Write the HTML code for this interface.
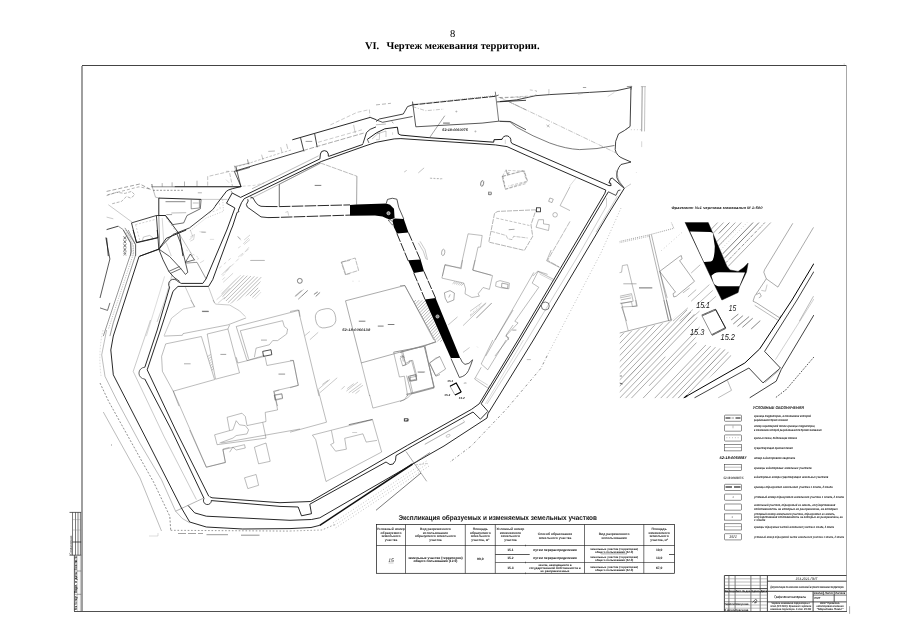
<!DOCTYPE html>
<html lang="ru"><head><meta charset="utf-8"><title>Чертеж межевания территории</title>
<style>
html,body{margin:0;padding:0;background:#fff;}
body{width:905px;height:640px;overflow:hidden;font-family:"Liberation Sans",sans-serif;}
svg{display:block;position:absolute;left:0;top:0;filter:grayscale(1);}
text{text-rendering:geometricPrecision;}
</style></head><body>
<svg width="905" height="640" viewBox="0 0 905 640">
<polyline points="82.0,65.5 847.0,65.5" fill="none" stroke="#444" stroke-width="1"/>
<polyline points="846.5,65.0 846.5,612.0" fill="none" stroke="#a8a8a8" stroke-width="1"/>
<polyline points="74.0,611.5 847.0,611.5" fill="none" stroke="#505050" stroke-width="1"/>
<polyline points="82.0,66.0 82.0,611.0" fill="none" stroke="#9a9a9a" stroke-width="1.9"/>
<polyline points="849.6,606.2 849.6,613.8" fill="none" stroke="#aaa" stroke-width="1"/>
<polyline points="844.2,63.5 844.2,64.6" fill="none" stroke="#999" stroke-width="0.6"/>
<text x="452.6" y="36.8" font-family='"Liberation Serif", serif' font-size="10.5" font-weight="normal" font-style="normal" text-anchor="middle" fill="#000" xml:space="preserve">8</text>
<text x="364.9" y="48.8" font-family='"Liberation Serif", serif' font-size="10.2" font-weight="bold" font-style="normal" text-anchor="start" fill="#000" textLength="14.3" lengthAdjust="spacingAndGlyphs" xml:space="preserve">VI.</text>
<text x="386.4" y="48.8" font-family='"Liberation Serif", serif' font-size="10.2" font-weight="bold" font-style="normal" text-anchor="start" fill="#000" textLength="153.2" lengthAdjust="spacingAndGlyphs" xml:space="preserve">Чертеж межевания территории.</text>
<polyline points="69.5,512.4 81.2,512.4" fill="none" stroke="#222" stroke-width="0.7"/>
<polyline points="72.5,512.4 72.5,555.2" fill="none" stroke="#222" stroke-width="0.6"/>
<polyline points="75.5,512.4 75.5,555.2" fill="none" stroke="#222" stroke-width="0.6"/>
<polyline points="78.0,512.4 78.0,555.2" fill="none" stroke="#222" stroke-width="0.6"/>
<polyline points="80.4,512.4 80.4,555.2" fill="none" stroke="#222" stroke-width="0.6"/>
<polyline points="72.5,542.0 81.2,542.0" fill="none" stroke="#111" stroke-width="0.7"/>
<polyline points="72.5,519.6 81.2,519.6" fill="none" stroke="#777" stroke-width="0.35"/>
<polyline points="72.5,530.0 81.2,530.0" fill="none" stroke="#777" stroke-width="0.35"/>
<polyline points="69.5,555.2 81.2,555.2" fill="none" stroke="#222" stroke-width="0.7"/>
<polyline points="74.4,555.2 74.4,611.0" fill="none" stroke="#333" stroke-width="0.8"/>
<polyline points="80.4,555.2 80.4,611.0" fill="none" stroke="#888" stroke-width="0.5"/>
<polyline points="77.6,555.2 77.6,611.0" fill="none" stroke="#999" stroke-width="0.4"/>
<polyline points="74.4,571.0 81.2,571.0" fill="none" stroke="#444" stroke-width="0.5"/>
<polyline points="74.4,594.3 81.2,594.3" fill="none" stroke="#444" stroke-width="0.5"/>
<text x="71.8" y="554.8" font-family='"Liberation Sans", sans-serif' font-size="3.4" font-weight="normal" font-style="normal" text-anchor="start" fill="#111" textLength="19.0" lengthAdjust="spacingAndGlyphs" transform="rotate(-90 71.8 554.8)" xml:space="preserve">Согласовано</text>
<text x="77.4" y="610.3" font-family='"Liberation Sans", sans-serif' font-size="3.6" font-weight="bold" font-style="normal" text-anchor="start" fill="#000" textLength="15.0" lengthAdjust="spacingAndGlyphs" transform="rotate(-90 77.4 610.3)" xml:space="preserve">Инв. № подл.</text>
<text x="77.4" y="593.3" font-family='"Liberation Sans", sans-serif' font-size="3.6" font-weight="bold" font-style="normal" text-anchor="start" fill="#000" textLength="21.0" lengthAdjust="spacingAndGlyphs" transform="rotate(-90 77.4 593.3)" xml:space="preserve">Подп. и дата</text>
<text x="77.4" y="570.0" font-family='"Liberation Sans", sans-serif' font-size="3.6" font-weight="bold" font-style="normal" text-anchor="start" fill="#000" textLength="14.0" lengthAdjust="spacingAndGlyphs" transform="rotate(-90 77.4 570.0)" xml:space="preserve">Взам. инв. №</text>
<text x="398.5" y="519.7" font-family='"Liberation Sans", sans-serif' font-size="6.9" font-weight="bold" font-style="normal" text-anchor="start" fill="#111" textLength="198.5" lengthAdjust="spacingAndGlyphs" xml:space="preserve">Экспликация образуемых и изменяемых земельных участков</text>
<rect x="376.5" y="524.5" width="298.0" height="48.8" rx="0" fill="none" stroke="#111" stroke-width="0.7"/>
<polyline points="405.5,524.5 405.5,573.3" fill="none" stroke="#111" stroke-width="0.6"/>
<polyline points="465.3,524.5 465.3,573.3" fill="none" stroke="#111" stroke-width="0.6"/>
<polyline points="495.3,524.5 495.3,573.3" fill="none" stroke="#111" stroke-width="0.6"/>
<polyline points="525.5,544.7 525.5,546.3" fill="none" stroke="#333" stroke-width="0.6"/>
<polyline points="525.5,561.7 525.5,563.3" fill="none" stroke="#333" stroke-width="0.6"/>
<polyline points="525.5,572.5 525.5,574.1" fill="none" stroke="#333" stroke-width="0.6"/>
<polyline points="584.5,524.5 584.5,573.3" fill="none" stroke="#111" stroke-width="0.6"/>
<polyline points="643.8,524.5 643.8,573.3" fill="none" stroke="#111" stroke-width="0.6"/>
<polyline points="376.5,545.5 674.5,545.5" fill="none" stroke="#111" stroke-width="0.6"/>
<polyline points="669.0,554.5 674.5,554.5" fill="none" stroke="#111" stroke-width="0.7"/>
<polyline points="601.0,553.9 627.0,553.9" fill="none" stroke="#333" stroke-width="0.4"/>
<polyline points="495.3,554.5 529.7,554.5" fill="none" stroke="#111" stroke-width="0.7"/>
<polyline points="495.3,562.5 674.5,562.5" fill="none" stroke="#222" stroke-width="0.6"/>
<text x="391.0" y="529.8" font-family='"Liberation Sans", sans-serif' font-size="3.3" font-weight="bold" font-style="normal" text-anchor="middle" fill="#222" xml:space="preserve">Условный номер</text>
<text x="391.0" y="533.5" font-family='"Liberation Sans", sans-serif' font-size="3.3" font-weight="bold" font-style="normal" text-anchor="middle" fill="#222" xml:space="preserve">образуемого</text>
<text x="391.0" y="537.3" font-family='"Liberation Sans", sans-serif' font-size="3.3" font-weight="bold" font-style="normal" text-anchor="middle" fill="#222" xml:space="preserve">земельного</text>
<text x="391.0" y="541.0" font-family='"Liberation Sans", sans-serif' font-size="3.3" font-weight="bold" font-style="normal" text-anchor="middle" fill="#222" xml:space="preserve">участка</text>
<text x="435.4" y="529.8" font-family='"Liberation Sans", sans-serif' font-size="3.3" font-weight="bold" font-style="normal" text-anchor="middle" fill="#222" xml:space="preserve">Вид разрешенного</text>
<text x="435.4" y="533.5" font-family='"Liberation Sans", sans-serif' font-size="3.3" font-weight="bold" font-style="normal" text-anchor="middle" fill="#222" xml:space="preserve">использования</text>
<text x="435.4" y="537.3" font-family='"Liberation Sans", sans-serif' font-size="3.3" font-weight="bold" font-style="normal" text-anchor="middle" fill="#222" xml:space="preserve">образуемого земельного</text>
<text x="435.4" y="541.0" font-family='"Liberation Sans", sans-serif' font-size="3.3" font-weight="bold" font-style="normal" text-anchor="middle" fill="#222" xml:space="preserve">участка</text>
<text x="480.3" y="529.8" font-family='"Liberation Sans", sans-serif' font-size="3.3" font-weight="bold" font-style="normal" text-anchor="middle" fill="#222" xml:space="preserve">Площадь</text>
<text x="480.3" y="533.5" font-family='"Liberation Sans", sans-serif' font-size="3.3" font-weight="bold" font-style="normal" text-anchor="middle" fill="#222" xml:space="preserve">образуемого</text>
<text x="480.3" y="537.3" font-family='"Liberation Sans", sans-serif' font-size="3.3" font-weight="bold" font-style="normal" text-anchor="middle" fill="#222" xml:space="preserve">земельного</text>
<text x="480.3" y="541.0" font-family='"Liberation Sans", sans-serif' font-size="3.3" font-weight="bold" font-style="normal" text-anchor="middle" fill="#222" xml:space="preserve">участка, м²</text>
<text x="510.4" y="529.8" font-family='"Liberation Sans", sans-serif' font-size="3.3" font-weight="bold" font-style="normal" text-anchor="middle" fill="#222" xml:space="preserve">Условный номер</text>
<text x="510.4" y="533.5" font-family='"Liberation Sans", sans-serif' font-size="3.3" font-weight="bold" font-style="normal" text-anchor="middle" fill="#222" xml:space="preserve">изменяемого</text>
<text x="510.4" y="537.3" font-family='"Liberation Sans", sans-serif' font-size="3.3" font-weight="bold" font-style="normal" text-anchor="middle" fill="#222" xml:space="preserve">земельного</text>
<text x="510.4" y="541.0" font-family='"Liberation Sans", sans-serif' font-size="3.3" font-weight="bold" font-style="normal" text-anchor="middle" fill="#222" xml:space="preserve">участка</text>
<text x="555.0" y="535.2" font-family='"Liberation Sans", sans-serif' font-size="3.3" font-weight="bold" font-style="normal" text-anchor="middle" fill="#222" xml:space="preserve">Способ образования</text>
<text x="555.0" y="539.0" font-family='"Liberation Sans", sans-serif' font-size="3.3" font-weight="bold" font-style="normal" text-anchor="middle" fill="#222" xml:space="preserve">земельного участка</text>
<text x="614.1" y="535.2" font-family='"Liberation Sans", sans-serif' font-size="3.3" font-weight="bold" font-style="normal" text-anchor="middle" fill="#222" xml:space="preserve">Вид разрешенного</text>
<text x="614.1" y="539.0" font-family='"Liberation Sans", sans-serif' font-size="3.3" font-weight="bold" font-style="normal" text-anchor="middle" fill="#222" xml:space="preserve">использования</text>
<text x="659.1" y="529.8" font-family='"Liberation Sans", sans-serif' font-size="3.3" font-weight="bold" font-style="normal" text-anchor="middle" fill="#222" xml:space="preserve">Площадь</text>
<text x="659.1" y="533.5" font-family='"Liberation Sans", sans-serif' font-size="3.3" font-weight="bold" font-style="normal" text-anchor="middle" fill="#222" xml:space="preserve">изменяемого</text>
<text x="659.1" y="537.3" font-family='"Liberation Sans", sans-serif' font-size="3.3" font-weight="bold" font-style="normal" text-anchor="middle" fill="#222" xml:space="preserve">земельного</text>
<text x="659.1" y="541.0" font-family='"Liberation Sans", sans-serif' font-size="3.3" font-weight="bold" font-style="normal" text-anchor="middle" fill="#222" xml:space="preserve">участка, м²</text>
<text x="391.0" y="562.2" font-family='"Liberation Sans", sans-serif' font-size="5" font-weight="normal" font-style="italic" text-anchor="middle" fill="#111" xml:space="preserve">15</text>
<polyline points="388.5,563.0 393.5,563.0" fill="none" stroke="#555" stroke-width="0.3"/>
<text x="435.4" y="558.6" font-family='"Liberation Sans", sans-serif' font-size="3.3" font-weight="bold" font-style="normal" text-anchor="middle" fill="#000" xml:space="preserve">земельные участки (территории)</text>
<text x="435.4" y="562.4" font-family='"Liberation Sans", sans-serif' font-size="3.3" font-weight="bold" font-style="normal" text-anchor="middle" fill="#000" xml:space="preserve">общего пользования (12.0)</text>
<text x="480.3" y="560.2" font-family='"Liberation Sans", sans-serif' font-size="3.3" font-weight="bold" font-style="normal" text-anchor="middle" fill="#000" xml:space="preserve">90,0</text>
<text x="510.4" y="551.0" font-family='"Liberation Sans", sans-serif' font-size="3.3" font-weight="bold" font-style="normal" text-anchor="middle" fill="#000" xml:space="preserve">15.1</text>
<text x="510.4" y="559.4" font-family='"Liberation Sans", sans-serif' font-size="3.3" font-weight="bold" font-style="normal" text-anchor="middle" fill="#000" xml:space="preserve">15.2</text>
<text x="510.4" y="569.0" font-family='"Liberation Sans", sans-serif' font-size="3.3" font-weight="bold" font-style="normal" text-anchor="middle" fill="#000" xml:space="preserve">15.3</text>
<text x="555.0" y="551.0" font-family='"Liberation Sans", sans-serif' font-size="3.3" font-weight="bold" font-style="normal" text-anchor="middle" fill="#000" xml:space="preserve">путем перераспределения</text>
<text x="555.0" y="559.4" font-family='"Liberation Sans", sans-serif' font-size="3.3" font-weight="bold" font-style="normal" text-anchor="middle" fill="#000" xml:space="preserve">путем перераспределения</text>
<text x="555.0" y="565.6" font-family='"Liberation Sans", sans-serif' font-size="3.0" font-weight="bold" font-style="normal" text-anchor="middle" fill="#000" xml:space="preserve">земли, находящиеся в</text>
<text x="555.0" y="568.7" font-family='"Liberation Sans", sans-serif' font-size="3.0" font-weight="bold" font-style="normal" text-anchor="middle" fill="#000" xml:space="preserve">государственной собственности и</text>
<text x="555.0" y="571.8" font-family='"Liberation Sans", sans-serif' font-size="3.0" font-weight="bold" font-style="normal" text-anchor="middle" fill="#000" xml:space="preserve">не разграниченные</text>
<text x="614.1" y="549.6" font-family='"Liberation Sans", sans-serif' font-size="2.9" font-weight="bold" font-style="normal" text-anchor="middle" fill="#000" xml:space="preserve">земельные участки (территории)</text>
<text x="614.1" y="552.6" font-family='"Liberation Sans", sans-serif' font-size="2.9" font-weight="bold" font-style="normal" text-anchor="middle" fill="#000" xml:space="preserve">общего пользования (12.0)</text>
<text x="614.1" y="557.9" font-family='"Liberation Sans", sans-serif' font-size="2.9" font-weight="bold" font-style="normal" text-anchor="middle" fill="#000" xml:space="preserve">земельные участки (территории)</text>
<text x="614.1" y="560.9" font-family='"Liberation Sans", sans-serif' font-size="2.9" font-weight="bold" font-style="normal" text-anchor="middle" fill="#000" xml:space="preserve">общего пользования (12.0)</text>
<text x="614.1" y="567.6" font-family='"Liberation Sans", sans-serif' font-size="2.9" font-weight="bold" font-style="normal" text-anchor="middle" fill="#000" xml:space="preserve">земельные участки (территории)</text>
<text x="614.1" y="570.6" font-family='"Liberation Sans", sans-serif' font-size="2.9" font-weight="bold" font-style="normal" text-anchor="middle" fill="#000" xml:space="preserve">общего пользования (12.0)</text>
<text x="659.1" y="551.0" font-family='"Liberation Sans", sans-serif' font-size="3.3" font-weight="bold" font-style="normal" text-anchor="middle" fill="#000" xml:space="preserve">10,0</text>
<text x="659.1" y="559.4" font-family='"Liberation Sans", sans-serif' font-size="3.3" font-weight="bold" font-style="normal" text-anchor="middle" fill="#000" xml:space="preserve">13,0</text>
<text x="659.1" y="569.0" font-family='"Liberation Sans", sans-serif' font-size="3.3" font-weight="bold" font-style="normal" text-anchor="middle" fill="#000" xml:space="preserve">67,0</text>
<text x="752.8" y="408.8" font-family='"Liberation Sans", sans-serif' font-size="4.2" font-weight="bold" font-style="italic" text-anchor="start" fill="#111" textLength="51.0" lengthAdjust="spacingAndGlyphs" xml:space="preserve">УСЛОВНЫЕ ОБОЗНАЧЕНИЯ</text>
<rect x="724.5" y="415.1" width="17.0" height="6.2" rx="0.8" fill="none" stroke="#222" stroke-width="0.5"/>
<polyline points="725.5,418.0 730.5,418.0" fill="none" stroke="#222" stroke-width="1.1"/>
<polyline points="731.5,418.0 734.0,418.0" fill="none" stroke="#222" stroke-width="0.5"/>
<polyline points="735.5,418.0 740.5,418.0" fill="none" stroke="#222" stroke-width="1.1"/>
<text x="754.0" y="417.4" font-family='"Liberation Sans", sans-serif' font-size="3.1" font-weight="bold" font-style="italic" text-anchor="start" fill="#111" textLength="57.0" lengthAdjust="spacingAndGlyphs" xml:space="preserve">граница территории, в отношении которой</text>
<text x="754.0" y="420.7" font-family='"Liberation Sans", sans-serif' font-size="3.1" font-weight="bold" font-style="italic" text-anchor="start" fill="#111" textLength="33.8" lengthAdjust="spacingAndGlyphs" xml:space="preserve">разрабатывается проект межевания</text>
<rect x="724.5" y="425.0" width="17.0" height="6.2" rx="0.8" fill="none" stroke="#222" stroke-width="0.5"/>
<polyline points="733.0,425.5 733.0,428.3" fill="none" stroke="#555" stroke-width="0.4"/>
<text x="754.0" y="427.3" font-family='"Liberation Sans", sans-serif' font-size="3.1" font-weight="bold" font-style="italic" text-anchor="start" fill="#111" textLength="61.2" lengthAdjust="spacingAndGlyphs" xml:space="preserve">номер характерной точки границы территории,</text>
<text x="754.0" y="430.6" font-family='"Liberation Sans", sans-serif' font-size="3.1" font-weight="bold" font-style="italic" text-anchor="start" fill="#111" textLength="67.5" lengthAdjust="spacingAndGlyphs" xml:space="preserve">в отношении которой разрабатывается проект межевания</text>
<rect x="724.5" y="434.9" width="17.0" height="6.2" rx="0.8" fill="none" stroke="#222" stroke-width="0.5"/>
<polyline points="726.5,437.7 740.0,437.7" fill="none" stroke="#555" stroke-width="0.5" stroke-dasharray="0.8 2"/>
<text x="754.0" y="438.9" font-family='"Liberation Sans", sans-serif' font-size="3.1" font-weight="bold" font-style="italic" text-anchor="start" fill="#111" textLength="43.0" lengthAdjust="spacingAndGlyphs" xml:space="preserve">красные линии, подлежащие отмене</text>
<rect x="724.5" y="444.7" width="17.0" height="6.2" rx="0" fill="none" stroke="#222" stroke-width="0.5"/>
<polyline points="724.5,447.5 741.5,447.5" fill="none" stroke="#555" stroke-width="0.4"/>
<text x="754.0" y="448.7" font-family='"Liberation Sans", sans-serif' font-size="3.1" font-weight="bold" font-style="italic" text-anchor="start" fill="#111" textLength="38.8" lengthAdjust="spacingAndGlyphs" xml:space="preserve">существующая красная линия</text>
<text x="719.5" y="459.0" font-family='"Liberation Sans", sans-serif' font-size="3.8" font-weight="bold" font-style="italic" text-anchor="start" fill="#000" textLength="27.0" lengthAdjust="spacingAndGlyphs" xml:space="preserve">52:18:0060087</text>
<text x="754.0" y="458.6" font-family='"Liberation Sans", sans-serif' font-size="3.1" font-weight="bold" font-style="italic" text-anchor="start" fill="#111" textLength="41.2" lengthAdjust="spacingAndGlyphs" xml:space="preserve">номер кадастрового квартала</text>
<rect x="724.5" y="464.5" width="17.0" height="6.2" rx="0" fill="none" stroke="#222" stroke-width="0.5"/>
<polyline points="724.5,467.2 741.5,467.2" fill="none" stroke="#555" stroke-width="0.4"/>
<text x="754.0" y="468.5" font-family='"Liberation Sans", sans-serif' font-size="3.1" font-weight="bold" font-style="italic" text-anchor="start" fill="#111" textLength="57.5" lengthAdjust="spacingAndGlyphs" xml:space="preserve">границы кадастровых земельных участков</text>
<text x="723.5" y="478.9" font-family='"Liberation Sans", sans-serif' font-size="3.3" font-weight="bold" font-style="italic" text-anchor="start" fill="#333" textLength="20.0" lengthAdjust="spacingAndGlyphs" xml:space="preserve">52:18:0060087:5</text>
<text x="754.0" y="478.4" font-family='"Liberation Sans", sans-serif' font-size="3.1" font-weight="bold" font-style="italic" text-anchor="start" fill="#111" textLength="74.2" lengthAdjust="spacingAndGlyphs" xml:space="preserve">кадастровые номера существующих земельных участков</text>
<rect x="724.5" y="484.3" width="17.0" height="6.2" rx="0.8" fill="none" stroke="#222" stroke-width="0.5"/>
<polyline points="725.5,487.0 732.0,487.0" fill="none" stroke="#222" stroke-width="1.2"/>
<polyline points="734.0,487.0 740.5,487.0" fill="none" stroke="#222" stroke-width="1.2"/>
<text x="754.0" y="488.3" font-family='"Liberation Sans", sans-serif' font-size="3.1" font-weight="bold" font-style="italic" text-anchor="start" fill="#111" textLength="78.8" lengthAdjust="spacingAndGlyphs" xml:space="preserve">граница образуемого земельного участка 1 этапа, 2 этапа</text>
<rect x="724.5" y="494.1" width="17.0" height="6.2" rx="0.8" fill="none" stroke="#222" stroke-width="0.5"/>
<text x="733.0" y="497.9" font-family='"Liberation Sans", sans-serif' font-size="3" font-weight="normal" font-style="italic" text-anchor="middle" fill="#555" xml:space="preserve">1</text>
<text x="754.0" y="498.1" font-family='"Liberation Sans", sans-serif' font-size="3.1" font-weight="bold" font-style="italic" text-anchor="start" fill="#111" textLength="90.0" lengthAdjust="spacingAndGlyphs" xml:space="preserve">условный номер образуемого земельного участка 1 этапа, 2 этапа</text>
<rect x="724.5" y="504.0" width="17.0" height="6.2" rx="0.8" fill="none" stroke="#222" stroke-width="0.5"/>
<text x="754.0" y="506.4" font-family='"Liberation Sans", sans-serif' font-size="3.1" font-weight="bold" font-style="italic" text-anchor="start" fill="#111" textLength="81.2" lengthAdjust="spacingAndGlyphs" xml:space="preserve">земельный участок, образуемый из земель, государственная</text>
<text x="754.0" y="509.7" font-family='"Liberation Sans", sans-serif' font-size="3.1" font-weight="bold" font-style="italic" text-anchor="start" fill="#111" textLength="83.8" lengthAdjust="spacingAndGlyphs" xml:space="preserve">собственность на которые не разграничена, на которых</text>
<rect x="724.5" y="513.9" width="17.0" height="6.2" rx="0" fill="none" stroke="#222" stroke-width="0.5"/>
<text x="732.0" y="517.6" font-family='"Liberation Sans", sans-serif' font-size="3" font-weight="normal" font-style="italic" text-anchor="middle" fill="#666" xml:space="preserve">:1</text>
<text x="754.0" y="514.6" font-family='"Liberation Sans", sans-serif' font-size="3.1" font-weight="bold" font-style="italic" text-anchor="start" fill="#111" textLength="81.2" lengthAdjust="spacingAndGlyphs" xml:space="preserve">условный номер земельного участка, образуемого из земель,</text>
<text x="754.0" y="517.9" font-family='"Liberation Sans", sans-serif' font-size="3.1" font-weight="bold" font-style="italic" text-anchor="start" fill="#111" textLength="88.8" lengthAdjust="spacingAndGlyphs" xml:space="preserve">государственная собственность на которые не разграничена, на</text>
<text x="754.0" y="521.2" font-family='"Liberation Sans", sans-serif' font-size="3.1" font-weight="bold" font-style="italic" text-anchor="start" fill="#111" textLength="11.2" lengthAdjust="spacingAndGlyphs" xml:space="preserve">1 этапе</text>
<rect x="724.5" y="523.8" width="17.0" height="6.2" rx="0" fill="none" stroke="#222" stroke-width="0.5"/>
<polyline points="724.5,526.6 741.5,526.6" fill="none" stroke="#555" stroke-width="0.4"/>
<text x="754.0" y="527.8" font-family='"Liberation Sans", sans-serif' font-size="3.1" font-weight="bold" font-style="italic" text-anchor="start" fill="#111" textLength="80.0" lengthAdjust="spacingAndGlyphs" xml:space="preserve">границы образуемых частей земельного участка 1 этапа, 2 этапа</text>
<rect x="724.5" y="533.7" width="17.0" height="6.2" rx="0.8" fill="none" stroke="#222" stroke-width="0.5"/>
<text x="733.0" y="538.2" font-family='"Liberation Sans", sans-serif' font-size="4" font-weight="normal" font-style="italic" text-anchor="middle" fill="#111" xml:space="preserve">15/1</text>
<text x="754.0" y="537.7" font-family='"Liberation Sans", sans-serif' font-size="3.1" font-weight="bold" font-style="italic" text-anchor="start" fill="#222" textLength="90.0" lengthAdjust="spacingAndGlyphs" xml:space="preserve">условный номер образуемой части земельного участка 1 этапа, 2 этапа</text>
<polyline points="724.4,575.5 846.5,575.5" fill="none" stroke="#333" stroke-width="0.9"/>
<polyline points="724.4,575.5 724.4,611.5" fill="none" stroke="#333" stroke-width="0.9"/>
<polyline points="728.9,575.5 728.9,611.5" fill="none" stroke="#444" stroke-width="0.7"/>
<polyline points="735.1,575.5 735.1,611.5" fill="none" stroke="#444" stroke-width="0.7"/>
<polyline points="750.9,575.5 750.9,611.5" fill="none" stroke="#444" stroke-width="0.7"/>
<polyline points="760.2,575.5 760.2,611.5" fill="none" stroke="#444" stroke-width="0.7"/>
<polyline points="767.4,575.5 767.4,611.5" fill="none" stroke="#333" stroke-width="0.9"/>
<polyline points="724.4,578.8 767.4,578.8" fill="none" stroke="#777" stroke-width="0.5"/>
<polyline points="724.4,582.0 767.4,582.0" fill="none" stroke="#777" stroke-width="0.5"/>
<polyline points="724.4,585.3 767.4,585.3" fill="none" stroke="#777" stroke-width="0.5"/>
<polyline points="724.4,588.6 767.4,588.6" fill="none" stroke="#333" stroke-width="0.9"/>
<polyline points="724.4,591.9 767.4,591.9" fill="none" stroke="#333" stroke-width="0.9"/>
<polyline points="724.4,595.1 767.4,595.1" fill="none" stroke="#777" stroke-width="0.5"/>
<polyline points="724.4,598.4 767.4,598.4" fill="none" stroke="#777" stroke-width="0.5"/>
<polyline points="724.4,601.7 767.4,601.7" fill="none" stroke="#333" stroke-width="0.5"/>
<polyline points="724.4,605.0 767.4,605.0" fill="none" stroke="#777" stroke-width="0.5"/>
<polyline points="724.4,608.2 767.4,608.2" fill="none" stroke="#777" stroke-width="0.5"/>
<polyline points="767.4,581.2 846.5,581.2" fill="none" stroke="#333" stroke-width="0.9"/>
<polyline points="767.4,591.3 846.5,591.3" fill="none" stroke="#333" stroke-width="0.9"/>
<polyline points="767.4,601.9 846.5,601.9" fill="none" stroke="#333" stroke-width="0.9"/>
<polyline points="813.1,591.3 813.1,611.5" fill="none" stroke="#333" stroke-width="0.9"/>
<polyline points="813.1,595.1 846.5,595.1" fill="none" stroke="#333" stroke-width="0.7"/>
<polyline points="823.4,591.3 823.4,595.1" fill="none" stroke="#333" stroke-width="0.7"/>
<polyline points="834.2,591.3 834.2,601.9" fill="none" stroke="#333" stroke-width="0.8"/>
<text x="806.5" y="579.6" font-family='"Liberation Sans", sans-serif' font-size="3.6" font-weight="normal" font-style="italic" text-anchor="middle" fill="#111" textLength="22.0" lengthAdjust="spacingAndGlyphs" xml:space="preserve">153-2021-ПМТ</text>
<text x="807.0" y="588.0" font-family='"Liberation Sans", sans-serif' font-size="3.2" font-weight="bold" font-style="italic" text-anchor="middle" fill="#111" textLength="73.5" lengthAdjust="spacingAndGlyphs" xml:space="preserve">Документация по внесению изменений в проект межевания территории</text>
<text x="790.2" y="597.7" font-family='"Liberation Sans", sans-serif' font-size="3.5" font-weight="bold" font-style="italic" text-anchor="middle" fill="#222" textLength="32.0" lengthAdjust="spacingAndGlyphs" xml:space="preserve">Графические материалы</text>
<text x="818.2" y="594.4" font-family='"Liberation Sans", sans-serif' font-size="2.9" font-weight="bold" font-style="italic" text-anchor="middle" fill="#000" textLength="9.0" lengthAdjust="spacingAndGlyphs" xml:space="preserve">Стадия</text>
<text x="828.8" y="594.4" font-family='"Liberation Sans", sans-serif' font-size="2.9" font-weight="bold" font-style="italic" text-anchor="middle" fill="#000" textLength="8.0" lengthAdjust="spacingAndGlyphs" xml:space="preserve">Лист</text>
<text x="840.3" y="594.4" font-family='"Liberation Sans", sans-serif' font-size="2.9" font-weight="bold" font-style="italic" text-anchor="middle" fill="#000" textLength="10.0" lengthAdjust="spacingAndGlyphs" xml:space="preserve">Листов</text>
<text x="817.2" y="598.5" font-family='"Liberation Sans", sans-serif' font-size="2.8" font-weight="bold" font-style="italic" text-anchor="middle" fill="#333" xml:space="preserve">ПМТ</text>
<text x="790.7" y="604.3" font-family='"Liberation Sans", sans-serif' font-size="2.9" font-weight="bold" font-style="italic" text-anchor="middle" fill="#111" textLength="39.0" lengthAdjust="spacingAndGlyphs" xml:space="preserve">Чертеж межевания территории. I</text>
<text x="790.7" y="606.9" font-family='"Liberation Sans", sans-serif' font-size="2.9" font-weight="bold" font-style="italic" text-anchor="middle" fill="#111" textLength="41.0" lengthAdjust="spacingAndGlyphs" xml:space="preserve">этап (М 1:1000). Фрагмент чертежа</text>
<text x="790.7" y="609.6" font-family='"Liberation Sans", sans-serif' font-size="2.9" font-weight="bold" font-style="italic" text-anchor="middle" fill="#111" textLength="41.0" lengthAdjust="spacingAndGlyphs" xml:space="preserve">межевания территории. II этап. М 1:500</text>
<text x="830.0" y="604.3" font-family='"Liberation Sans", sans-serif' font-size="2.9" font-weight="bold" font-style="italic" text-anchor="middle" fill="#111" textLength="20.0" lengthAdjust="spacingAndGlyphs" xml:space="preserve">ООО "Проектно-</text>
<text x="830.0" y="606.9" font-family='"Liberation Sans", sans-serif' font-size="2.9" font-weight="bold" font-style="italic" text-anchor="middle" fill="#111" textLength="27.0" lengthAdjust="spacingAndGlyphs" xml:space="preserve">кадастровая компания</text>
<text x="830.0" y="609.6" font-family='"Liberation Sans", sans-serif' font-size="2.9" font-weight="bold" font-style="italic" text-anchor="middle" fill="#111" textLength="27.0" lengthAdjust="spacingAndGlyphs" xml:space="preserve">"Меридиан Плюс"</text>
<text x="724.8" y="591.5" font-family='"Liberation Sans", sans-serif' font-size="2.9" font-weight="bold" font-style="normal" text-anchor="start" fill="#000" textLength="3.8" lengthAdjust="spacingAndGlyphs" xml:space="preserve">Изм.</text>
<text x="729.2" y="591.5" font-family='"Liberation Sans", sans-serif' font-size="2.9" font-weight="bold" font-style="normal" text-anchor="start" fill="#000" textLength="5.6" lengthAdjust="spacingAndGlyphs" xml:space="preserve">Кол.уч</text>
<text x="735.4" y="591.5" font-family='"Liberation Sans", sans-serif' font-size="2.9" font-weight="bold" font-style="normal" text-anchor="start" fill="#000" textLength="15.2" lengthAdjust="spacingAndGlyphs" xml:space="preserve">Лист  № док.</text>
<text x="751.2" y="591.5" font-family='"Liberation Sans", sans-serif' font-size="2.9" font-weight="bold" font-style="normal" text-anchor="start" fill="#000" textLength="8.6" lengthAdjust="spacingAndGlyphs" xml:space="preserve">Подпись</text>
<text x="760.5" y="591.5" font-family='"Liberation Sans", sans-serif' font-size="2.9" font-weight="bold" font-style="normal" text-anchor="start" fill="#000" textLength="6.6" lengthAdjust="spacingAndGlyphs" xml:space="preserve">Дата</text>
<text x="724.8" y="604.6" font-family='"Liberation Sans", sans-serif' font-size="2.9" font-weight="bold" font-style="normal" text-anchor="start" fill="#000" textLength="10.0" lengthAdjust="spacingAndGlyphs" xml:space="preserve">Разработал</text>
<text x="735.4" y="604.6" font-family='"Liberation Sans", sans-serif' font-size="2.9" font-weight="bold" font-style="normal" text-anchor="start" fill="#111" textLength="13.0" lengthAdjust="spacingAndGlyphs" xml:space="preserve">Шалунова</text>
<text x="724.8" y="611.1" font-family='"Liberation Sans", sans-serif' font-size="2.9" font-weight="bold" font-style="normal" text-anchor="start" fill="#000" textLength="10.0" lengthAdjust="spacingAndGlyphs" xml:space="preserve">Н. контроль</text>
<text x="735.4" y="611.1" font-family='"Liberation Sans", sans-serif' font-size="2.9" font-weight="bold" font-style="normal" text-anchor="start" fill="#111" textLength="13.0" lengthAdjust="spacingAndGlyphs" xml:space="preserve">Краснова</text>
<path d="M752.5,602.5 l3,-3.2 l1.5,1 l-2.5,2.7 l2.2,-0.6" fill="none" stroke="#111" stroke-width="0.6"/>
<path d="M250.4,197 L253,197.9 Q254.5,201 256.6,203.6 Q258.5,205.6 261,206.3 L266,206.5" fill="none" stroke="#000" stroke-width="0.8"/>
<polyline points="266.0,206.5 279.6,206.6 350.0,204.9" fill="none" stroke="#000" stroke-width="0.85" stroke-dasharray="11.5 1.4"/>
<path d="M247.7,199.2 L248.2,201 L246.4,204.5 L247.3,207.1 L253,211.1 L261,216.9 L268,217.6" fill="none" stroke="#000" stroke-width="0.8"/>
<polyline points="268.0,217.6 278.0,217.4 350.0,215.1" fill="none" stroke="#000" stroke-width="0.85" stroke-dasharray="11.5 1.4"/>
<polyline points="279.5,184.1 279.5,206.3" fill="none" stroke="#333" stroke-width="0.5"/>
<polygon points="350.0,205.0 356.2,204.4 386.2,203.4 390.0,204.8 394.0,208.8 394.6,218.2 390.0,219.5 386.2,218.2 382.5,216.5 375.0,215.6 350.0,215.8" fill="#000" stroke="none" stroke-width="0"/>
<path d="M386.3,203.3 L387.5,199.4 Q392.5,197.2 396.9,199.2 L398.8,207.5 L403.8,219" fill="none" stroke="#111" stroke-width="0.7"/>
<polygon points="388.1,220.0 390.6,220.0 393.8,222.8 392.5,225.2" fill="#fff" stroke="#111" stroke-width="0.5"/>
<polygon points="392.5,219.8 395.0,218.5 403.8,219.0 408.5,232.5 396.9,233.6 393.8,226.9" fill="#000" stroke="none" stroke-width="0"/>
<polyline points="396.9,233.5 408.5,261.5" fill="none" stroke="#111" stroke-width="0.9" stroke-dasharray="9 1.3"/>
<polyline points="408.4,232.5 420.6,260.3" fill="none" stroke="#111" stroke-width="0.9" stroke-dasharray="9 1.3"/>
<polygon points="408.1,260.3 420.6,259.6 424.0,271.3 413.8,273.1" fill="#000" stroke="none" stroke-width="0"/>
<polyline points="413.8,273.1 425.0,299.4" fill="none" stroke="#111" stroke-width="0.9" stroke-dasharray="9 1.3"/>
<polyline points="423.9,271.3 435.6,298.1" fill="none" stroke="#111" stroke-width="0.9" stroke-dasharray="9 1.3"/>
<polygon points="424.7,299.6 435.6,298.0 460.2,358.0 450.8,358.0" fill="#000" stroke="none" stroke-width="0"/>
<circle cx="388.5" cy="213.2" r="1.6" fill="#888" stroke="#fff" stroke-width="0.6"/>
<circle cx="437.5" cy="316.5" r="1.6" fill="#888" stroke="#fff" stroke-width="0.6"/>
<path d="M451,358.5 L459.4,377.5 Q466,376 468.5,370.5 Q471,365 472.6,359.8 Q469,364.5 465,364.4 Q461.8,363 460.2,358" fill="none" stroke="#111" stroke-width="0.7"/>
<polygon points="450.0,386.2 456.2,383.1 461.2,391.9 455.0,395.0" fill="none" stroke="#333" stroke-width="0.4"/>
<polyline points="450.0,386.2 456.2,383.1 461.2,391.9" fill="none" stroke="#000" stroke-width="1.1"/>
<polyline points="461.2,391.9 455.0,395.0" fill="none" stroke="#000" stroke-width="1.1"/>
<text x="447.3" y="382.0" font-family='"Liberation Sans", sans-serif' font-size="3.0" font-weight="bold" font-style="italic" text-anchor="start" fill="#222" xml:space="preserve">15.1</text>
<text x="444.3" y="395.8" font-family='"Liberation Sans", sans-serif' font-size="3.0" font-weight="bold" font-style="italic" text-anchor="start" fill="#222" xml:space="preserve">15.3</text>
<text x="458.8" y="398.8" font-family='"Liberation Sans", sans-serif' font-size="3.0" font-weight="bold" font-style="italic" text-anchor="start" fill="#222" xml:space="preserve">15.2</text>
<text x="463.5" y="383.5" font-family='"Liberation Sans", sans-serif' font-size="2.6" font-weight="normal" font-style="italic" text-anchor="start" fill="#777" xml:space="preserve">15</text>
<path d="M240.6,197.4 L319.9,158.9 L320.4,154 A4,4 0 0 1 328.3,154 L328.3,156.2 L329.2,156.2 L362.9,144.4" fill="none" stroke="#000" stroke-width="0.85"/>
<polyline points="244.2,198.7 321.3,161.5 365.0,146.0 376.0,142.3 394.2,138.9 400.9,138.6 495.3,144.9 507.0,146.6 526.0,155.2" fill="none" stroke="#000" stroke-width="0.85"/>
<polyline points="252.0,188.8 318.6,155.8" fill="none" stroke="#555" stroke-width="0.4"/>
<polyline points="250.0,199.0 320.4,163.3" fill="none" stroke="#555" stroke-width="0.4"/>
<path d="M362.9,143.8 L366.5,132.5 Q369,129 376,126.9" fill="none" stroke="#000" stroke-width="0.8"/>
<path d="M367.3,139.4 Q377,131.5 384.8,128.8 L397.4,127.2 L398.4,133.9 L400.9,135.1 L429,137.7 L493.7,142.2 L494,139.7 L502,139.4" fill="none" stroke="#000" stroke-width="0.9"/>
<polyline points="367.3,139.4 369.0,143.0" fill="none" stroke="#000" stroke-width="0.6"/>
<polyline points="372.0,139.0 378.0,133.5 386.0,131.0 386.0,137.0" fill="none" stroke="#666" stroke-width="0.35"/>
<path d="M502,139.4 A4.4,4.4 0 0 1 510.8,141.3 L511.6,143" fill="none" stroke="#000" stroke-width="0.85"/>
<polyline points="511.6,143.3 608.9,185.6 611.1,185.6 610.6,183.0 608.9,183.0 610.6,178.6 612.4,178.1 622.1,186.5 624.3,188.3" fill="none" stroke="#000" stroke-width="0.85"/>
<polyline points="526.0,155.2 605.8,190.1 604.9,193.2" fill="none" stroke="#000" stroke-width="0.85"/>
<polyline points="608.4,191.8 615.9,195.4 618.2,190.5 620.4,190.0" fill="none" stroke="#000" stroke-width="0.7"/>
<polyline points="624.3,188.3 631.0,183.9" fill="none" stroke="#666" stroke-width="0.35"/>
<polyline points="604.9,193.2 518.0,340.0 479.2,403.8 471.6,409.3 407.5,445.3 310.7,501.5 280.0,502.7 212.0,497.8 209.5,496.6" fill="none" stroke="#000" stroke-width="0.85"/>
<polyline points="608.4,191.8 606.2,195.4 520.2,340.0 481.2,403.8" fill="none" stroke="#000" stroke-width="0.85"/>
<circle cx="545.3" cy="306.0" r="4.0" fill="#fff" stroke="#222" stroke-width="0.6"/>
<polyline points="624.3,188.3 607.1,216.0 586.9,250.0 533.4,340.0 487.9,413.8 487.0,418.0 444.0,446.0 430.0,454.0 319.8,517.8 311.5,519.5 290.0,520.3 206.3,516.2 194.7,512.9 188.0,505.4" fill="none" stroke="#000" stroke-width="0.85"/>
<polyline points="606.5,198.0 606.5,206.0 578.0,256.0 521.0,350.0 487.0,404.0" fill="none" stroke="#777" stroke-width="0.35"/>
<polyline points="617.5,196.0 596.0,232.0" fill="none" stroke="#777" stroke-width="0.35"/>
<polyline points="621.0,208.0 601.0,252.8 547.0,356.0" fill="none" stroke="#555" stroke-width="0.45" stroke-dasharray="0.8 2.2"/>
<polyline points="547.0,356.0 541.0,368.2 506.0,409.6 471.3,446.0 450.0,462.0" fill="none" stroke="#333" stroke-width="0.55" stroke-dasharray="2.4 2 0.6 2"/>
<path d="M481.2,403.8 L487.9,411.3 L480.4,419.2 L473,412" fill="none" stroke="#000" stroke-width="0.8"/>
<polyline points="473.0,412.0 412.4,446.0 396.0,455.6" fill="none" stroke="#000" stroke-width="0.85"/>
<path d="M396,455.6 L395.5,460.5 Q393.5,465.5 390,464.6 L386,462" fill="none" stroke="#000" stroke-width="0.8"/>
<polyline points="386.0,462.0 309.8,504.2 311.5,513.7 301.5,515.8 298.2,507.0 280.0,506.4 211.4,500.6" fill="none" stroke="#000" stroke-width="0.85"/>
<polyline points="464.5,422.0 424.7,444.3" fill="none" stroke="#777" stroke-width="0.35"/>
<polyline points="412.6,464.0 319.8,525.3" fill="none" stroke="#111" stroke-width="1.5"/>
<polyline points="430.0,452.5 412.6,464.0" fill="none" stroke="#333" stroke-width="0.5"/>
<polyline points="421.0,473.0 376.0,510.3" fill="none" stroke="#222" stroke-width="0.6"/>
<polyline points="406.0,451.5 426.7,481.3" fill="none" stroke="#444" stroke-width="0.45"/>
<polyline points="416.0,464.8 427.5,463.4" fill="none" stroke="#666" stroke-width="0.35" stroke-dasharray="2 1"/>
<polyline points="426.5,461.0 331.5,524.0" fill="none" stroke="#666" stroke-width="0.4" stroke-dasharray="1 2"/>
<polyline points="427.8,463.5 332.8,526.5" fill="none" stroke="#666" stroke-width="0.4" stroke-dasharray="1 2"/>
<polyline points="429.0,466.0 334.0,529.0" fill="none" stroke="#666" stroke-width="0.4" stroke-dasharray="1 2"/>
<path d="M204.2,498.2 A4,4 0 1 0 211.4,500.2" fill="none" stroke="#111" stroke-width="0.8"/>
<polyline points="203.8,498.0 175.6,511.2" fill="none" stroke="#444" stroke-width="0.4"/>
<polyline points="208.8,496.3 175.6,430.0 147.2,369.8 160.5,330.0 173.0,291.3 178.0,286.4 208.6,286.4 212.7,279.7 231.0,230.0 232.7,226.0 237.1,212.4 238.9,211.6 238.4,210.2 241.5,202.7 244.2,198.7" fill="none" stroke="#000" stroke-width="0.85"/>
<polyline points="203.8,498.0 171.5,430.0 144.8,379.0" fill="none" stroke="#000" stroke-width="0.85"/>
<path d="M144.8,379 A4.2,4.2 0 0 1 144.8,367.3" fill="none" stroke="#222" stroke-width="0.7"/>
<polyline points="144.8,367.3 157.2,330.0 169.6,287.2" fill="none" stroke="#000" stroke-width="0.85"/>
<path d="M169.6,287.2 A3.9,3.9 0 1 1 177.6,281.3 L181.2,283.4" fill="none" stroke="#111" stroke-width="0.8"/>
<polyline points="181.2,283.4 202.8,283.4 206.0,279.0 226.8,230.0 228.3,226.0 234.9,208.0 226.5,203.2 232.2,193.0 240.6,197.4" fill="none" stroke="#000" stroke-width="0.85"/>
<polyline points="186.2,230.0 166.3,238.3 158.8,249.0 139.0,256.5 113.3,336.0 110.8,350.0 113.3,374.8 144.8,436.0 181.4,507.9 189.7,522.0 206.3,527.0 242.8,529.0 290.0,528.6 311.0,527.5 319.8,525.3" fill="none" stroke="#000" stroke-width="0.85"/>
<polyline points="150.5,320.0 147.2,330.0 133.2,371.4 163.8,436.0 196.4,499.6" fill="none" stroke="#666" stroke-width="0.35"/>
<polyline points="172.0,275.0 165.0,300.0 157.0,322.0" fill="none" stroke="#777" stroke-width="0.35"/>
<path d="M106.6,330 L101.7,354.9 L105,376.4 L117.4,401.3 L140,443.3 L161.5,479.7 L175.6,511.2 Q182,520 189.7,522.8" fill="none" stroke="#555" stroke-width="0.4"/>
<path d="M103,330 Q98,352 101,376" fill="none" stroke="#888" stroke-width="0.3" stroke-dasharray="1.5 1.5"/>
<polyline points="100.0,383.0 108.6,401.3 142.0,461.5 153.7,482.3 169.8,516.2 170.7,530.3" fill="none" stroke="#333" stroke-width="0.55" stroke-dasharray="2 1.6"/>
<polyline points="170.7,530.3 290.0,531.1" fill="none" stroke="#333" stroke-width="0.5" stroke-dasharray="1.6 1.8"/>
<polyline points="103.3,412.0 140.0,478.0 161.5,531.0" fill="none" stroke="#555" stroke-width="0.4"/>
<polyline points="111.5,444.0 111.5,446.0" fill="none" stroke="#777" stroke-width="0.4"/>
<polyline points="178.0,533.5 203.0,533.5" fill="none" stroke="#444" stroke-width="0.5" stroke-dasharray="8 2"/>
<polyline points="206.5,534.7 228.0,534.7" fill="none" stroke="#999" stroke-width="1"/>
<polyline points="241.0,535.2 259.5,535.2" fill="none" stroke="#777" stroke-width="0.8"/>
<polyline points="290.0,531.0 322.0,530.0 336.0,524.0" fill="none" stroke="#444" stroke-width="0.45" stroke-dasharray="1.6 1.8"/>
<polyline points="149.0,536.0 158.0,536.0 158.0,533.0" fill="none" stroke="#888" stroke-width="0.3"/>
<path d="M241.5,186.4 L232.7,188.6 Q228,189.8 226.5,191.2 L215,206.3" fill="none" stroke="#000" stroke-width="0.85"/>
<polyline points="232.2,193.0 231.0,190.8" fill="none" stroke="#333" stroke-width="0.5"/>
<polyline points="133.1,230.0 136.5,242.4 158.0,237.5 157.2,230.0" fill="none" stroke="#111" stroke-width="0.8"/>
<polyline points="158.0,237.5 158.8,249.1" fill="none" stroke="#111" stroke-width="0.8"/>
<polyline points="158.8,249.1 163.0,259.8 168.8,271.4 173.8,277.2 179.6,281.4" fill="none" stroke="#111" stroke-width="0.8"/>
<polyline points="158.8,249.1 169.6,256.5 181.2,269.0 185.4,274.4 187.8,272.3 181.2,244.9 177.1,234.1" fill="none" stroke="#111" stroke-width="0.7"/>
<polyline points="168.8,271.4 179.6,266.5" fill="none" stroke="#111" stroke-width="0.6"/>
<polyline points="170.4,273.4 181.2,268.5" fill="none" stroke="#111" stroke-width="0.6"/>
<polygon points="185.4,262.3 194.5,259.8 190.3,254.0" fill="none" stroke="#111" stroke-width="0.6"/>
<polyline points="186.2,263.1 197.0,262.3 206.1,278.9" fill="none" stroke="#333" stroke-width="0.5"/>
<polyline points="123.2,230.0 130.7,243.3 131.5,251.5 126.5,266.5 103.3,336.1" fill="none" stroke="#333" stroke-width="0.5"/>
<polyline points="128.2,230.0 135.6,244.9 135.6,254.9 113.3,322.8 109.9,336.1" fill="none" stroke="#333" stroke-width="0.5"/>
<polyline points="125.7,230.0 133.1,244.1 133.6,253.2 108.3,329.4" fill="none" stroke="#666" stroke-width="0.4" stroke-dasharray="1.2 1.2"/>
<polyline points="105.8,237.5 109.9,259.0 100.0,298.0" fill="none" stroke="#111" stroke-width="0.7"/>
<polyline points="100.0,307.9 107.5,310.4 109.9,302.9" fill="none" stroke="#111" stroke-width="0.6"/>
<polyline points="123.5,236.6 126.2,239.6" fill="none" stroke="#333" stroke-width="0.4"/>
<polyline points="126.2,236.6 123.5,239.6" fill="none" stroke="#333" stroke-width="0.4"/>
<polyline points="123.5,240.3 126.2,243.3" fill="none" stroke="#333" stroke-width="0.4"/>
<polyline points="126.2,240.3 123.5,243.3" fill="none" stroke="#333" stroke-width="0.4"/>
<polyline points="123.5,243.9 126.2,246.9" fill="none" stroke="#333" stroke-width="0.4"/>
<polyline points="126.2,243.9 123.5,246.9" fill="none" stroke="#333" stroke-width="0.4"/>
<polyline points="123.5,247.6 126.2,250.6" fill="none" stroke="#333" stroke-width="0.4"/>
<polyline points="126.2,247.6 123.5,250.6" fill="none" stroke="#333" stroke-width="0.4"/>
<polyline points="123.5,251.2 126.2,254.2" fill="none" stroke="#333" stroke-width="0.4"/>
<polyline points="126.2,251.2 123.5,254.2" fill="none" stroke="#333" stroke-width="0.4"/>
<polyline points="194.5,307.1 185.4,287.2" fill="none" stroke="#666" stroke-width="0.35"/>
<polyline points="208.6,287.2 214.4,302.9" fill="none" stroke="#666" stroke-width="0.35"/>
<polyline points="201.9,311.2 208.6,311.2" fill="none" stroke="#333" stroke-width="0.5"/>
<polyline points="164.6,276.4 146.4,336.1" fill="none" stroke="#888" stroke-width="0.3"/>
<polyline points="190.3,230.0 192.8,236.6 189.5,239.9" fill="none" stroke="#777" stroke-width="0.3"/>
<polyline points="186.2,249.9 199.4,258.2 192.8,261.5" fill="none" stroke="#888" stroke-width="0.3" stroke-dasharray="2 2"/>
<polyline points="237.6,236.6 240.9,239.1" fill="none" stroke="#777" stroke-width="0.3"/>
<polyline points="244.2,239.9 250.0,235.0" fill="none" stroke="#777" stroke-width="0.3"/>
<polyline points="219.3,268.1 230.9,258.2" fill="none" stroke="#777" stroke-width="0.3" stroke-dasharray="3 3"/>
<polyline points="226.0,271.4 249.2,248.2" fill="none" stroke="#777" stroke-width="0.3" stroke-dasharray="4 3"/>
<polyline points="199.4,231.7 206.1,232.5" fill="none" stroke="#888" stroke-width="0.3"/>
<polyline points="151.4,186.8 174.6,186.8" fill="none" stroke="#111" stroke-width="0.5"/>
<polyline points="174.6,186.8 240.9,186.8" fill="none" stroke="#111" stroke-width="1.1"/>
<polyline points="152.2,184.0 152.2,186.8" fill="none" stroke="#444" stroke-width="0.4"/>
<polyline points="162.2,183.1 162.2,186.8" fill="none" stroke="#444" stroke-width="0.4"/>
<polyline points="172.1,182.3 172.1,186.8" fill="none" stroke="#444" stroke-width="0.4"/>
<polyline points="184.5,181.5 184.5,186.8" fill="none" stroke="#444" stroke-width="0.4"/>
<polyline points="197.0,180.7 197.0,186.8" fill="none" stroke="#444" stroke-width="0.4"/>
<polyline points="153.0,190.3 184.5,190.3" fill="none" stroke="#333" stroke-width="0.5" stroke-dasharray="2 1.5"/>
<polyline points="151.4,184.0 155.5,197.2 159.7,198.1" fill="none" stroke="#555" stroke-width="0.4"/>
<polyline points="158.8,215.5 158.8,198.1 201.1,199.4" fill="none" stroke="#111" stroke-width="0.9"/>
<polyline points="201.1,199.4 200.3,208.8 187.0,215.5 183.7,222.9 172.9,224.6 165.5,215.5 158.8,215.5" fill="none" stroke="#111" stroke-width="0.6"/>
<polyline points="165.5,201.7 185.4,201.7" fill="none" stroke="#888" stroke-width="1.0"/>
<polyline points="191.2,199.7 191.2,208.8 199.4,208.0 199.4,199.7" fill="none" stroke="#333" stroke-width="0.5"/>
<polyline points="192.8,203.0 198.6,203.0" fill="none" stroke="#555" stroke-width="0.4"/>
<polyline points="201.1,199.4 227.6,199.4" fill="none" stroke="#666" stroke-width="0.35"/>
<polyline points="166.3,214.6 172.1,214.6" fill="none" stroke="#999" stroke-width="0.9"/>
<polyline points="171.3,213.0 186.2,212.7" fill="none" stroke="#555" stroke-width="0.4"/>
<polyline points="131.5,222.9 156.4,215.5 165.5,215.5 179.6,234.5 182.9,256.1" fill="none" stroke="#111" stroke-width="0.8"/>
<polyline points="131.5,222.9 136.5,242.8 158.0,237.8 156.4,215.5" fill="none" stroke="#111" stroke-width="0.8"/>
<polyline points="135.6,224.6 139.8,240.3" fill="none" stroke="#666" stroke-width="0.3" stroke-dasharray="2 1.5"/>
<polyline points="135.6,224.6 154.7,219.6" fill="none" stroke="#666" stroke-width="0.3" stroke-dasharray="2 1.5"/>
<polyline points="142.3,240.8 143.4,237.0 149.7,235.4 153.0,237.8" fill="none" stroke="#666" stroke-width="0.35"/>
<polyline points="215.2,206.4 212.7,209.7 189.5,227.9 172.9,234.5 163.0,244.5 158.8,249.4 139.8,256.1" fill="none" stroke="#111" stroke-width="0.8"/>
<polyline points="158.8,215.5 159.7,249.4" fill="none" stroke="#333" stroke-width="0.5"/>
<polyline points="162.2,218.0 163.8,242.8" fill="none" stroke="#777" stroke-width="0.3"/>
<polyline points="166.3,218.0 177.9,234.5" fill="none" stroke="#777" stroke-width="0.3" stroke-dasharray="2 2"/>
<polyline points="106.6,191.4 139.8,184.0 151.4,189.8" fill="none" stroke="#333" stroke-width="0.45" stroke-dasharray="4 2"/>
<polyline points="106.6,195.6 116.6,192.3 124.9,193.4 131.5,191.4 134.8,194.8 130.7,198.1 126.5,196.4 121.5,201.4 111.6,203.9" fill="none" stroke="#444" stroke-width="0.4" stroke-dasharray="3 1.5"/>
<polyline points="108.3,204.7 133.1,222.9" fill="none" stroke="#666" stroke-width="0.35"/>
<polyline points="106.6,217.1 113.3,218.8" fill="none" stroke="#666" stroke-width="0.35"/>
<polyline points="107.5,194.8 139.0,186.8 149.7,189.0" fill="none" stroke="#444" stroke-width="0.4" stroke-dasharray="3 2"/>
<polyline points="106.6,229.6 118.2,226.2" fill="none" stroke="#111" stroke-width="0.8"/>
<polyline points="106.6,237.8 108.3,256.1" fill="none" stroke="#111" stroke-width="0.8"/>
<polyline points="118.2,226.2 123.2,229.6 130.7,242.8 130.7,256.1" fill="none" stroke="#333" stroke-width="0.5"/>
<polyline points="124.9,227.9 135.6,244.5 135.6,256.1" fill="none" stroke="#333" stroke-width="0.5"/>
<polyline points="126.5,232.9 133.1,246.1 133.1,256.1" fill="none" stroke="#666" stroke-width="0.4" stroke-dasharray="1.2 1.2"/>
<polyline points="123.5,236.2 126.2,239.2" fill="none" stroke="#333" stroke-width="0.4"/>
<polyline points="126.2,236.2 123.5,239.2" fill="none" stroke="#333" stroke-width="0.4"/>
<polyline points="123.5,240.3 126.2,243.3" fill="none" stroke="#333" stroke-width="0.4"/>
<polyline points="126.2,240.3 123.5,243.3" fill="none" stroke="#333" stroke-width="0.4"/>
<polyline points="123.5,244.5 126.2,247.5" fill="none" stroke="#333" stroke-width="0.4"/>
<polyline points="126.2,244.5 123.5,247.5" fill="none" stroke="#333" stroke-width="0.4"/>
<polyline points="123.5,248.6 126.2,251.6" fill="none" stroke="#333" stroke-width="0.4"/>
<polyline points="126.2,248.6 123.5,251.6" fill="none" stroke="#333" stroke-width="0.4"/>
<polyline points="123.5,252.8 126.2,255.7" fill="none" stroke="#333" stroke-width="0.4"/>
<polyline points="126.2,252.8 123.5,255.7" fill="none" stroke="#333" stroke-width="0.4"/>
<polyline points="207.7,185.6 207.7,176.5 229.3,171.5 232.6,186.8" fill="none" stroke="#555" stroke-width="0.35" stroke-dasharray="4 1.5"/>
<polyline points="235.9,166.6 240.9,186.8" fill="none" stroke="#111" stroke-width="0.7"/>
<polyline points="234.3,166.6 250.0,162.9" fill="none" stroke="#555" stroke-width="0.4"/>
<polyline points="235.9,171.5 250.0,167.4" fill="none" stroke="#222" stroke-width="0.6"/>
<polyline points="247.5,159.1 248.3,164.1" fill="none" stroke="#555" stroke-width="0.35"/>
<polyline points="222.7,199.7 223.5,211.3 206.1,218.0 189.5,231.2" fill="none" stroke="#666" stroke-width="0.35" stroke-dasharray="1 1.5"/>
<polyline points="219.3,203.0 220.2,208.8 207.7,213.8" fill="none" stroke="#888" stroke-width="0.3" stroke-dasharray="2 2"/>
<polyline points="197.8,192.8 201.9,192.8" fill="none" stroke="#444" stroke-width="0.4"/>
<polyline points="190.3,237.0 194.5,234.5 193.6,239.5 190.3,241.2" fill="none" stroke="#777" stroke-width="0.3"/>
<polyline points="201.1,232.0 206.1,232.0" fill="none" stroke="#777" stroke-width="0.3"/>
<polyline points="237.6,236.2 240.9,240.3" fill="none" stroke="#777" stroke-width="0.3"/>
<polyline points="244.2,244.5 250.0,239.5" fill="none" stroke="#777" stroke-width="0.3"/>
<polyline points="179.6,234.5 192.8,256.1" fill="none" stroke="#555" stroke-width="0.35"/>
<polyline points="166.3,242.8 171.3,256.1" fill="none" stroke="#777" stroke-width="0.3"/>
<polyline points="234.3,171.3 303.1,150.6" fill="none" stroke="#111" stroke-width="0.8"/>
<polyline points="292.3,139.8 370.2,117.4 376.0,119.6" fill="none" stroke="#111" stroke-width="0.9"/>
<polyline points="300.6,138.1 303.9,151.4" fill="none" stroke="#111" stroke-width="0.8"/>
<polyline points="314.7,134.0 317.2,147.2" fill="none" stroke="#111" stroke-width="0.8"/>
<polyline points="234.3,171.3 240.9,186.2" fill="none" stroke="#111" stroke-width="0.7"/>
<polyline points="303.1,150.6 316.3,146.7 363.6,133.1" fill="none" stroke="#444" stroke-width="0.45" stroke-dasharray="5 1.5"/>
<polyline points="318.0,142.3 361.9,129.8" fill="none" stroke="#666" stroke-width="0.35" stroke-dasharray="4 2"/>
<polyline points="235.1,167.1 247.5,163.8 262.5,158.8 280.7,153.0 292.3,149.7" fill="none" stroke="#555" stroke-width="0.35" stroke-dasharray="2.5 1.5"/>
<polyline points="234.3,165.5 235.6,170.4" fill="none" stroke="#555" stroke-width="0.35"/>
<polyline points="247.5,159.7 248.9,164.6" fill="none" stroke="#555" stroke-width="0.35"/>
<polyline points="261.6,154.7 263.0,159.7" fill="none" stroke="#555" stroke-width="0.35"/>
<polyline points="280.7,147.2 282.0,152.2" fill="none" stroke="#555" stroke-width="0.35"/>
<polyline points="286.5,143.9 287.8,148.9" fill="none" stroke="#555" stroke-width="0.35"/>
<polyline points="268.3,151.4 274.9,151.0" fill="none" stroke="#444" stroke-width="0.4"/>
<polyline points="330.4,124.9 356.9,112.4 369.4,109.6 369.9,116.6" fill="none" stroke="#666" stroke-width="0.35" stroke-dasharray="4 2"/>
<polyline points="353.6,124.9 355.3,133.1" fill="none" stroke="#666" stroke-width="0.35"/>
<polyline points="305.6,141.4 312.2,141.4" fill="none" stroke="#333" stroke-width="0.5"/>
<polyline points="226.0,171.3 234.3,171.3" fill="none" stroke="#666" stroke-width="0.35" stroke-dasharray="3 2"/>
<polyline points="226.0,179.6 229.3,182.9" fill="none" stroke="#888" stroke-width="0.3"/>
<polyline points="242.6,186.2 254.2,185.4 264.1,182.9" fill="none" stroke="#777" stroke-width="0.3" stroke-dasharray="3 2"/>
<polyline points="320.5,163.0 356.9,176.2" fill="none" stroke="#555" stroke-width="0.4" stroke-dasharray="5 1"/>
<polyline points="356.9,176.2 356.6,204.8" fill="none" stroke="#333" stroke-width="0.45"/>
<polyline points="320.5,163.0 279.0,184.5 279.0,206.1" fill="none" stroke="#555" stroke-width="0.4"/>
<polyline points="314.7,185.4 321.3,185.4" fill="none" stroke="#222" stroke-width="0.6"/>
<polyline points="376.0,121.5 379.3,119.0 403.3,114.0 407.5,106.6 412.5,104.9" fill="none" stroke="#111" stroke-width="0.8"/>
<polyline points="412.5,104.9 495.3,96.3" fill="none" stroke="#111" stroke-width="0.9" stroke-dasharray="6 1"/>
<polyline points="495.3,96.3 498.7,95.0" fill="none" stroke="#111" stroke-width="0.6"/>
<polyline points="412.5,104.3 495.3,95.6" fill="none" stroke="#444" stroke-width="0.4" stroke-dasharray="1 1"/>
<polyline points="376.0,119.8 382.6,122.3 412.5,116.5" fill="none" stroke="#111" stroke-width="0.7"/>
<polyline points="412.5,101.6 415.8,126.8" fill="none" stroke="#111" stroke-width="0.7"/>
<polyline points="415.8,126.8 482.1,123.1 498.7,121.2 510.3,121.5 526.0,129.8" fill="none" stroke="#111" stroke-width="0.7"/>
<polyline points="495.3,91.7 498.7,121.2" fill="none" stroke="#222" stroke-width="0.6"/>
<polyline points="444.8,115.7 429.9,137.2" fill="none" stroke="#333" stroke-width="0.45"/>
<polyline points="412.5,106.6 425.7,110.7 444.0,109.1" fill="none" stroke="#555" stroke-width="0.35" stroke-dasharray="4 1.5 1 1.5"/>
<polyline points="497.0,101.9 526.0,100.3" fill="none" stroke="#111" stroke-width="0.8"/>
<polyline points="508.6,101.6 526.0,109.9" fill="none" stroke="#555" stroke-width="0.35"/>
<polyline points="498.7,97.5 526.0,97.0" fill="none" stroke="#444" stroke-width="0.4" stroke-dasharray="4 2"/>
<polyline points="376.0,104.9 390.9,103.3" fill="none" stroke="#444" stroke-width="0.4" stroke-dasharray="4 2"/>
<polyline points="376.0,124.8 385.9,124.0" fill="none" stroke="#555" stroke-width="0.4"/>
<polyline points="391.7,121.5 393.4,123.1" fill="none" stroke="#333" stroke-width="0.5"/>
<polyline points="376.0,139.7 379.3,139.7 379.6,133.1 376.0,133.4" fill="none" stroke="#666" stroke-width="0.35"/>
<polyline points="443.1,123.1 449.8,123.1" fill="none" stroke="#222" stroke-width="0.7"/>
<polyline points="455.2,111.5 457.5,111.5" fill="none" stroke="#666" stroke-width="0.3"/>
<polyline points="456.4,110.4 456.4,112.7" fill="none" stroke="#666" stroke-width="0.3"/>
<polyline points="474.3,131.4 476.6,131.4" fill="none" stroke="#666" stroke-width="0.3"/>
<polyline points="475.4,130.3 475.4,132.6" fill="none" stroke="#666" stroke-width="0.3"/>
<text x="442.3" y="131.0" font-family='"Liberation Sans", sans-serif' font-size="3.5" font-weight="bold" font-style="italic" text-anchor="start" fill="#222" textLength="25.5" lengthAdjust="spacingAndGlyphs" xml:space="preserve">52:18:0060075</text>
<polyline points="404.2,172.0 406.7,170.4" fill="none" stroke="#555" stroke-width="0.35"/>
<polyline points="418.3,172.9 424.1,167.9" fill="none" stroke="#555" stroke-width="0.35"/>
<polyline points="429.9,178.2 442.3,178.7" fill="none" stroke="#555" stroke-width="0.35" stroke-dasharray="2 1.5"/>
<ellipse cx="482.1" cy="183.6" rx="1.4" ry="2.6" fill="none" stroke="#555" stroke-width="0.4" transform="rotate(10 482.1 183.6)"/>
<polyline points="502.8,176.2 523.5,170.4 526.0,179.5" fill="none" stroke="#555" stroke-width="0.35" stroke-dasharray="3 1.5"/>
<polyline points="502.8,176.2 505.3,189.4 526.0,183.6" fill="none" stroke="#555" stroke-width="0.35" stroke-dasharray="3 1.5"/>
<polyline points="506.1,169.6 507.8,174.5 509.4,172.0" fill="none" stroke="#555" stroke-width="0.35"/>
<polygon points="488.7,192.8 491.2,192.8 491.2,194.8 488.7,194.8" fill="none" stroke="#444" stroke-width="0.4"/>
<polyline points="505.3,139.7 505.3,143.9" fill="none" stroke="#777" stroke-width="0.3"/>
<polyline points="392.6,132.3 392.6,134.8" fill="none" stroke="#777" stroke-width="0.3"/>
<polyline points="500.0,101.5 516.6,99.9 535.6,95.7 549.7,94.6 589.5,92.4 616.0,90.8 630.9,87.5" fill="none" stroke="#111" stroke-width="0.8"/>
<path d="M631,86.6 L630.1,126.4 L624.3,130.6 L618.5,133.9 Q614.5,141 615.2,149.6 Q616.5,156 623,158.5 L631,162 L621,164.5 Q616,170 616.9,177.8 Q618.5,183 623.9,187.4" fill="none" stroke="#111" stroke-width="0.8"/>
<polyline points="626.0,129.7 630.1,126.4" fill="none" stroke="#555" stroke-width="0.4"/>
<polyline points="616.0,170.3 618.5,179.4 622.7,186.1" fill="none" stroke="#444" stroke-width="0.35"/>
<path d="M500,121.4 L510,121.8 Q513,124.5 516.6,127.2 Q533,136.5 549.7,143 Q566,149 579.6,149.6 Q597,149.5 614.4,145.5" fill="none" stroke="#222" stroke-width="0.6"/>
<polyline points="500.0,97.4 616.0,152.9" fill="none" stroke="#555" stroke-width="0.35" stroke-dasharray="5 1.2 1 1.2"/>
<polyline points="642.2,86.6 641.7,131.4" fill="none" stroke="#555" stroke-width="0.6"/>
<polyline points="645.0,86.6 644.5,131.4" fill="none" stroke="#777" stroke-width="0.45"/>
<polyline points="640.9,86.6 645.9,86.6" fill="none" stroke="#666" stroke-width="0.4"/>
<polyline points="641.7,141.3 641.7,147.1" fill="none" stroke="#888" stroke-width="0.35"/>
<polyline points="630.9,129.7 640.9,129.7" fill="none" stroke="#777" stroke-width="0.35" stroke-dasharray="1 2"/>
<polyline points="529.8,89.9 536.5,90.8 535.6,95.7" fill="none" stroke="#666" stroke-width="0.35" stroke-dasharray="3 2"/>
<polyline points="548.9,89.1 548.9,94.6" fill="none" stroke="#666" stroke-width="0.35"/>
<polyline points="500.0,98.2 519.9,96.6 535.6,95.7" fill="none" stroke="#666" stroke-width="0.35" stroke-dasharray="3 2"/>
<polyline points="582.9,87.5 586.2,87.5" fill="none" stroke="#444" stroke-width="0.5"/>
<polyline points="626.8,86.6 631.8,86.3 630.9,89.9" fill="none" stroke="#333" stroke-width="0.5"/>
<polyline points="546.4,124.8 549.7,127.2" fill="none" stroke="#555" stroke-width="0.35"/>
<polyline points="547.2,127.2 549.4,124.4" fill="none" stroke="#555" stroke-width="0.35"/>
<polyline points="607.7,96.6 614.4,92.4" fill="none" stroke="#888" stroke-width="0.3"/>
<polyline points="577.9,94.6 582.9,93.3" fill="none" stroke="#888" stroke-width="0.3"/>
<polyline points="502.5,176.1 505.8,170.3 524.0,171.2 527.3,181.1 508.3,186.1" fill="none" stroke="#666" stroke-width="0.35" stroke-dasharray="3 1.5"/>
<polyline points="502.5,176.1 505.0,186.1" fill="none" stroke="#666" stroke-width="0.35" stroke-dasharray="3 1.5"/>
<polyline points="569.6,186.1 576.2,177.8" fill="none" stroke="#888" stroke-width="0.3"/>
<polyline points="635.9,172.0 636.7,172.8" fill="none" stroke="#999" stroke-width="0.3"/>
<polyline points="164.1,335.6 171.5,318.2 183.1,309.1 194.8,306.6 190.6,300.0" fill="none" stroke="#666" stroke-width="0.35"/>
<polyline points="213.0,300.0 215.5,304.1 229.6,305.0 239.5,310.8 245.3,316.6" fill="none" stroke="#666" stroke-width="0.35"/>
<polyline points="164.1,336.1 182.3,335.3 183.1,333.6 227.9,324.9 246.1,317.9" fill="none" stroke="#555" stroke-width="0.4"/>
<polyline points="236.2,326.5 299.2,310.3 300.0,316.6" fill="none" stroke="#555" stroke-width="0.4"/>
<polygon points="165.7,343.9 201.4,336.5 214.6,379.6 173.2,391.2 162.4,371.3 161.6,356.4" fill="none" stroke="#555" stroke-width="0.4"/>
<polygon points="207.2,334.0 227.9,329.0 239.5,372.9 215.5,379.2" fill="none" stroke="#555" stroke-width="0.4"/>
<polyline points="207.7,356.5 210.6,354.5" fill="none" stroke="#555" stroke-width="0.35"/>
<polyline points="208.5,358.8 211.1,356.9" fill="none" stroke="#555" stroke-width="0.35"/>
<polyline points="209.2,361.2 211.5,359.2" fill="none" stroke="#555" stroke-width="0.35"/>
<polyline points="209.9,363.5 211.9,361.5" fill="none" stroke="#555" stroke-width="0.35"/>
<polyline points="210.6,365.8 212.3,363.8" fill="none" stroke="#555" stroke-width="0.35"/>
<polyline points="211.3,368.1 212.8,366.1" fill="none" stroke="#555" stroke-width="0.35"/>
<polyline points="212.0,370.4 213.2,368.5" fill="none" stroke="#555" stroke-width="0.35"/>
<polyline points="227.9,329.0 229.6,324.9" fill="none" stroke="#555" stroke-width="0.4"/>
<polyline points="236.2,326.5 247.0,360.5 264.4,355.5" fill="none" stroke="#555" stroke-width="0.4"/>
<polyline points="248.6,358.8 240.3,330.7 282.6,320.7 284.3,326.5 287.6,329.0 286.7,334.0 277.6,340.6 272.7,340.6 269.3,344.8 256.1,348.1 254.4,357.2" fill="none" stroke="#555" stroke-width="0.4"/>
<polygon points="262.7,351.4 271.0,349.7 271.8,354.7 263.5,356.4" fill="none" stroke="#222" stroke-width="0.8"/>
<polyline points="236.2,357.2 237.8,363.0 264.4,356.4" fill="none" stroke="#555" stroke-width="0.4"/>
<polyline points="265.2,357.2 266.9,365.5 293.4,360.5 298.3,385.4 273.5,391.2 277.6,406.1" fill="none" stroke="#555" stroke-width="0.4"/>
<polygon points="274.3,395.3 281.8,394.1 282.6,398.6 275.1,400.3" fill="none" stroke="#555" stroke-width="0.4"/>
<polyline points="202.2,311.6 208.8,311.6" fill="none" stroke="#333" stroke-width="0.5"/>
<polyline points="184.0,363.8 190.6,363.8" fill="none" stroke="#777" stroke-width="0.6"/>
<polyline points="220.4,354.4 226.2,354.4" fill="none" stroke="#444" stroke-width="0.5"/>
<polyline points="261.0,340.1 266.9,340.1" fill="none" stroke="#555" stroke-width="0.5"/>
<polyline points="278.5,374.1 285.1,374.1" fill="none" stroke="#888" stroke-width="0.9"/>
<polyline points="173.2,391.2 179.0,406.1" fill="none" stroke="#555" stroke-width="0.4"/>
<polyline points="173.2,390.8 206.4,467.1 225.4,462.6 222.9,449.7 244.5,444.7 245.3,448.0 236.2,450.0 232.9,447.2 229.6,452.2" fill="none" stroke="#555" stroke-width="0.4"/>
<polyline points="221.3,443.0 300.0,429.0" fill="none" stroke="#555" stroke-width="0.4"/>
<polygon points="214.6,434.8 229.6,430.6 227.1,417.3 242.0,413.2 245.3,416.5 247.0,425.6 262.7,422.3 266.0,438.1 217.1,444.7" fill="none" stroke="#555" stroke-width="0.4"/>
<polyline points="229.6,430.6 232.9,429.8 236.2,420.7 239.5,424.8 245.3,425.6 248.6,429.8 247.0,433.9 236.2,435.6 232.9,438.1 219.6,443.0" fill="none" stroke="#555" stroke-width="0.4"/>
<polyline points="262.7,422.3 266.0,421.5 265.2,412.4 277.6,409.9 274.3,391.7 279.3,390.0" fill="none" stroke="#555" stroke-width="0.4"/>
<polygon points="274.3,395.0 281.8,393.6 282.6,398.0 275.1,399.6" fill="none" stroke="#555" stroke-width="0.4"/>
<polygon points="254.4,447.2 266.0,443.0 270.2,461.3 258.6,463.8" fill="none" stroke="#555" stroke-width="0.4"/>
<polygon points="244.5,477.8 256.1,474.5 258.6,485.3 247.8,488.6" fill="none" stroke="#555" stroke-width="0.4"/>
<polygon points="345.5,300.8 404.7,285.5 435.9,342.2 361.3,362.9" fill="none" stroke="#444" stroke-width="0.45"/>
<polyline points="361.3,362.9 369.6,396.1" fill="none" stroke="#555" stroke-width="0.4"/>
<polyline points="290.0,311.5 298.3,309.9 319.0,396.1" fill="none" stroke="#555" stroke-width="0.4"/>
<rect x="315.6" y="309.0" width="20" height="18.5" rx="7.5" fill="none" stroke="#555" stroke-width="0.4" transform="rotate(-12 325.6 318.2)"/>
<text x="342.2" y="331.0" font-family='"Liberation Sans", sans-serif' font-size="3.5" font-weight="bold" font-style="italic" text-anchor="start" fill="#333" textLength="28.0" lengthAdjust="spacingAndGlyphs" xml:space="preserve">52:18:0060138</text>
<polyline points="358.8,321.2 365.4,321.2" fill="none" stroke="#222" stroke-width="0.6"/>
<polyline points="377.8,326.1 383.6,326.1" fill="none" stroke="#222" stroke-width="0.6"/>
<polyline points="387.8,324.5 394.4,324.5" fill="none" stroke="#222" stroke-width="0.6"/>
<polyline points="295.0,295.8 301.6,290.8" fill="none" stroke="#666" stroke-width="0.35"/>
<polyline points="298.3,299.1 307.4,290.8" fill="none" stroke="#666" stroke-width="0.35"/>
<polyline points="314.0,294.1 317.3,291.7" fill="none" stroke="#666" stroke-width="0.35"/>
<polyline points="315.7,296.6 319.8,292.5" fill="none" stroke="#666" stroke-width="0.35"/>
<polyline points="304.9,335.6 309.9,331.4" fill="none" stroke="#666" stroke-width="0.35"/>
<polyline points="309.9,339.7 318.2,332.3" fill="none" stroke="#666" stroke-width="0.35"/>
<polyline points="318.2,389.4 329.8,379.5" fill="none" stroke="#666" stroke-width="0.35"/>
<polyline points="319.8,392.8 337.2,377.8" fill="none" stroke="#666" stroke-width="0.35"/>
<polyline points="322.3,384.5 328.1,380.3" fill="none" stroke="#666" stroke-width="0.35"/>
<polyline points="341.4,389.4 344.7,386.1" fill="none" stroke="#666" stroke-width="0.35"/>
<polyline points="346.4,391.1 358.0,382.0" fill="none" stroke="#666" stroke-width="0.35"/>
<polyline points="348.8,392.8 361.3,383.6" fill="none" stroke="#666" stroke-width="0.35"/>
<polyline points="352.2,392.8 362.9,385.3" fill="none" stroke="#666" stroke-width="0.35"/>
<polyline points="347.2,388.6 353.8,383.6" fill="none" stroke="#666" stroke-width="0.35"/>
<polyline points="355.5,393.6 359.6,390.3" fill="none" stroke="#666" stroke-width="0.35"/>
<polyline points="290.0,360.4 293.3,360.4 298.3,385.3 290.0,387.8" fill="none" stroke="#555" stroke-width="0.4"/>
<polyline points="393.6,352.2 424.3,346.4" fill="none" stroke="#888" stroke-width="0.9"/>
<polyline points="424.3,346.4 434.2,387.0" fill="none" stroke="#888" stroke-width="0.9"/>
<polyline points="434.2,387.0 406.0,394.4" fill="none" stroke="#555" stroke-width="0.5"/>
<polyline points="393.6,352.2 399.4,377.0 404.4,376.2 407.7,396.1" fill="none" stroke="#555" stroke-width="0.4"/>
<polyline points="402.7,351.3 404.4,358.0" fill="none" stroke="#555" stroke-width="0.4"/>
<polygon points="400.2,358.0 403.5,356.3 406.0,364.6 402.7,365.9" fill="none" stroke="#555" stroke-width="0.4"/>
<polyline points="406.0,364.6 409.3,362.9 409.0,360.9 412.7,360.4 416.8,376.2 409.3,377.8 412.7,392.8" fill="none" stroke="#555" stroke-width="0.4"/>
<polygon points="408.5,376.2 416.0,374.5 416.8,380.3 409.3,381.2" fill="none" stroke="#777" stroke-width="0.6"/>
<polyline points="417.6,372.0 425.1,372.0" fill="none" stroke="#444" stroke-width="0.5"/>
<clipPath id="hs"><polygon points="412.6,299.8 425.2,300.6 443.6,341.8 435.6,341.6"/></clipPath><g clip-path="url(#hs)">
<polyline points="356.0,360.0 426.0,290.0" fill="none" stroke="#444" stroke-width="0.4"/>
<polyline points="359.3,360.0 429.3,290.0" fill="none" stroke="#444" stroke-width="0.4"/>
<polyline points="362.6,360.0 432.6,290.0" fill="none" stroke="#444" stroke-width="0.4"/>
<polyline points="365.9,360.0 435.9,290.0" fill="none" stroke="#444" stroke-width="0.4"/>
<polyline points="369.2,360.0 439.2,290.0" fill="none" stroke="#444" stroke-width="0.4"/>
<polyline points="372.5,360.0 442.5,290.0" fill="none" stroke="#444" stroke-width="0.4"/>
<polyline points="375.8,360.0 445.8,290.0" fill="none" stroke="#444" stroke-width="0.4"/>
<polyline points="379.1,360.0 449.1,290.0" fill="none" stroke="#444" stroke-width="0.4"/>
<polyline points="382.4,360.0 452.4,290.0" fill="none" stroke="#444" stroke-width="0.4"/>
<polyline points="385.7,360.0 455.7,290.0" fill="none" stroke="#444" stroke-width="0.4"/>
<polyline points="389.0,360.0 459.0,290.0" fill="none" stroke="#444" stroke-width="0.4"/>
<polyline points="392.3,360.0 462.3,290.0" fill="none" stroke="#444" stroke-width="0.4"/>
<polyline points="395.6,360.0 465.6,290.0" fill="none" stroke="#444" stroke-width="0.4"/>
<polyline points="398.9,360.0 468.9,290.0" fill="none" stroke="#444" stroke-width="0.4"/>
<polyline points="402.2,360.0 472.2,290.0" fill="none" stroke="#444" stroke-width="0.4"/>
<polyline points="405.5,360.0 475.5,290.0" fill="none" stroke="#444" stroke-width="0.4"/>
<polyline points="408.8,360.0 478.8,290.0" fill="none" stroke="#444" stroke-width="0.4"/>
<polyline points="412.1,360.0 482.1,290.0" fill="none" stroke="#444" stroke-width="0.4"/>
<polyline points="415.4,360.0 485.4,290.0" fill="none" stroke="#444" stroke-width="0.4"/>
<polyline points="418.7,360.0 488.7,290.0" fill="none" stroke="#444" stroke-width="0.4"/>
<polyline points="422.0,360.0 492.0,290.0" fill="none" stroke="#444" stroke-width="0.4"/>
<polyline points="425.3,360.0 495.3,290.0" fill="none" stroke="#444" stroke-width="0.4"/>
<polyline points="428.6,360.0 498.6,290.0" fill="none" stroke="#444" stroke-width="0.4"/>
</g>
<polyline points="429.2,362.9 440.0,356.3" fill="none" stroke="#555" stroke-width="0.4"/>
<polyline points="429.2,362.9 435.9,376.2 440.0,374.5" fill="none" stroke="#888" stroke-width="0.7"/>
<polygon points="341.2,262.2 355.2,258.0 358.6,270.4 345.3,274.6" fill="none" stroke="#555" stroke-width="0.4" stroke-dasharray="5 0.8"/>
<circle cx="299.7" cy="280.9" r="2.4" fill="none" stroke="#444" stroke-width="0.4"/>
<polyline points="294.8,297.0 301.4,290.3" fill="none" stroke="#666" stroke-width="0.35"/>
<polyline points="298.1,299.4 308.0,290.3" fill="none" stroke="#666" stroke-width="0.35"/>
<polyline points="313.8,294.5 318.0,292.0" fill="none" stroke="#666" stroke-width="0.35"/>
<polyline points="315.5,296.5 319.6,292.8" fill="none" stroke="#666" stroke-width="0.35"/>
<polyline points="250.0,260.5 264.9,260.5" fill="none" stroke="#888" stroke-width="0.35"/>
<polyline points="352.4,281.2 353.6,281.2" fill="none" stroke="#999" stroke-width="0.3"/>
<polyline points="358.6,281.2 359.7,281.2" fill="none" stroke="#999" stroke-width="0.3"/>
<clipPath id="hm"><polygon points="220.7,291.4 240.6,274.9 262.2,277.3 258.0,288.1 261.3,292.3 254.7,298.9 248.1,294.8 239.8,299.7 229.8,303.9 223.2,298.9"/></clipPath><g clip-path="url(#hm)">
<polyline points="195.4,316.3 245.1,266.6" fill="none" stroke="#555" stroke-width="0.4"/>
<polyline points="199.2,316.3 248.9,266.6" fill="none" stroke="#555" stroke-width="0.4"/>
<polyline points="203.0,316.3 252.7,266.6" fill="none" stroke="#555" stroke-width="0.4"/>
<polyline points="206.8,316.3 256.5,266.6" fill="none" stroke="#555" stroke-width="0.4"/>
<polyline points="210.6,316.3 260.3,266.6" fill="none" stroke="#555" stroke-width="0.4"/>
<polyline points="214.4,316.3 264.1,266.6" fill="none" stroke="#555" stroke-width="0.4"/>
<polyline points="218.2,316.3 268.0,266.6" fill="none" stroke="#555" stroke-width="0.4"/>
<polyline points="222.0,316.3 271.8,266.6" fill="none" stroke="#555" stroke-width="0.4"/>
<polyline points="225.9,316.3 275.6,266.6" fill="none" stroke="#555" stroke-width="0.4"/>
<polyline points="229.7,316.3 279.4,266.6" fill="none" stroke="#555" stroke-width="0.4"/>
<polyline points="233.5,316.3 283.2,266.6" fill="none" stroke="#555" stroke-width="0.4"/>
<polyline points="237.3,316.3 287.0,266.6" fill="none" stroke="#555" stroke-width="0.4"/>
<polyline points="241.1,316.3 290.8,266.6" fill="none" stroke="#555" stroke-width="0.4"/>
<polyline points="244.9,316.3 294.6,266.6" fill="none" stroke="#555" stroke-width="0.4"/>
<polyline points="248.7,316.3 298.5,266.6" fill="none" stroke="#555" stroke-width="0.4"/>
</g>
<polyline points="216.6,299.7 229.8,288.1" fill="none" stroke="#777" stroke-width="0.3"/>
<polyline points="218.2,303.0 224.9,297.2" fill="none" stroke="#777" stroke-width="0.3"/>
<polyline points="222.4,279.8 224.9,277.3" fill="none" stroke="#777" stroke-width="0.3"/>
<polyline points="223.2,282.3 233.1,273.2" fill="none" stroke="#777" stroke-width="0.3"/>
<polyline points="221.5,274.9 230.7,265.7" fill="none" stroke="#777" stroke-width="0.3"/>
<polyline points="238.1,237.2 239.8,238.9" fill="none" stroke="#888" stroke-width="0.3"/>
<polyline points="243.1,243.9 248.9,238.1" fill="none" stroke="#888" stroke-width="0.3"/>
<polyline points="238.1,248.0 240.6,246.4" fill="none" stroke="#888" stroke-width="0.3"/>
<polyline points="244.8,252.2 248.9,247.2" fill="none" stroke="#888" stroke-width="0.3"/>
<polyline points="238.1,257.1 243.1,253.0" fill="none" stroke="#888" stroke-width="0.3"/>
<polyline points="224.9,272.9 230.7,266.2" fill="none" stroke="#888" stroke-width="0.3"/>
<polyline points="222.4,276.2 224.9,273.7" fill="none" stroke="#888" stroke-width="0.3"/>
<polyline points="250.6,260.4 264.6,260.4" fill="none" stroke="#888" stroke-width="0.4"/>
<circle cx="299.9" cy="280.8" r="2.5" fill="none" stroke="#555" stroke-width="0.4"/>
<polyline points="350.0,260.4 341.7,262.1 345.9,274.5 350.0,273.7" fill="none" stroke="#666" stroke-width="0.35"/>
<polyline points="296.1,296.1 303.6,289.4" fill="none" stroke="#666" stroke-width="0.35"/>
<polyline points="301.9,296.1 307.7,290.3" fill="none" stroke="#666" stroke-width="0.35"/>
<polyline points="314.4,294.4 317.7,291.9" fill="none" stroke="#666" stroke-width="0.35"/>
<polyline points="316.0,296.1 320.2,292.4" fill="none" stroke="#666" stroke-width="0.35"/>
<polyline points="285.4,212.4 287.8,211.5 288.7,215.7" fill="none" stroke="#666" stroke-width="0.3"/>
<polyline points="201.7,232.3 205.0,232.3" fill="none" stroke="#888" stroke-width="0.3"/>
<polyline points="209.9,239.4 214.1,239.4" fill="none" stroke="#999" stroke-width="0.3"/>
<polyline points="200.0,262.9 204.1,260.4" fill="none" stroke="#888" stroke-width="0.3"/>
<polygon points="502.0,176.6 524.4,170.8 527.7,181.6 505.4,189.1" fill="none" stroke="#555" stroke-width="0.35" stroke-dasharray="4 1"/>
<polyline points="506.2,170.8 507.0,174.1 508.7,172.5" fill="none" stroke="#555" stroke-width="0.3"/>
<ellipse cx="482.2" cy="183.3" rx="1.5" ry="3" fill="none" stroke="#555" stroke-width="0.4" transform="rotate(12 482.2 183.3)"/>
<rect x="488.3" y="192.0" width="3.0" height="2.5" rx="0" fill="none" stroke="#444" stroke-width="0.4"/>
<rect x="549.0" y="198.5" width="3.6" height="3.6" fill="none" stroke="#555" stroke-width="0.4" transform="rotate(20 550.9 200.7)"/>
<circle cx="555.1" cy="214.8" r="2.3" fill="none" stroke="#555" stroke-width="0.4"/>
<rect x="536.5" y="207.8" width="4.0" height="4.0" rx="0" fill="none" stroke="#222" stroke-width="0.8"/>
<polyline points="536.0,209.8 497.9,211.4 494.6,213.1 488.8,242.1 524.4,250.4 532.7,236.3 531.0,224.7 536.0,209.8" fill="none" stroke="#444" stroke-width="0.4" stroke-dasharray="5 1"/>
<polyline points="496.2,218.1 529.4,225.5" fill="none" stroke="#555" stroke-width="0.35" stroke-dasharray="3 1.5"/>
<polyline points="491.3,231.3 506.2,235.5 507.8,238.8 512.0,239.6 513.6,236.3 527.7,238.0" fill="none" stroke="#555" stroke-width="0.35" stroke-dasharray="4 1"/>
<polyline points="508.7,229.7 514.5,229.3" fill="none" stroke="#555" stroke-width="0.5"/>
<polygon points="536.0,227.2 538.5,219.7 543.5,219.7 543.5,223.9 549.3,224.7 548.5,230.5" fill="none" stroke="#555" stroke-width="0.4"/>
<polyline points="570.0,186.6 560.1,205.6 570.0,210.6" fill="none" stroke="#555" stroke-width="0.4"/>
<polyline points="570.0,221.4 547.6,260.3 559.2,267.0" fill="none" stroke="#555" stroke-width="0.4" stroke-dasharray="6 1"/>
<polyline points="468.1,233.8 482.2,235.5 480.5,247.1 478.0,247.1 473.0,270.3 491.3,275.2" fill="none" stroke="#555" stroke-width="0.4"/>
<polyline points="468.1,233.8 460.6,267.8 444.9,265.3 442.4,276.1" fill="none" stroke="#555" stroke-width="0.4"/>
<ellipse cx="443.2" cy="252.4" rx="1.6" ry="3.2" fill="none" stroke="#444" stroke-width="0.4" transform="rotate(8 443.2 252.4)"/>
<polyline points="420.0,241.3 425.0,249.6 427.5,259.5 425.8,258.7 423.3,251.2 418.3,242.9" fill="none" stroke="#666" stroke-width="0.35"/>
<polyline points="430.8,178.3 441.5,179.1" fill="none" stroke="#888" stroke-width="0.3" stroke-dasharray="1.5 1.5"/>
<polyline points="532.7,276.1 537.7,271.1 547.6,274.4" fill="none" stroke="#555" stroke-width="0.4"/>
<polyline points="445.0,264.4 461.2,268.8 462.5,260.0" fill="none" stroke="#555" stroke-width="0.4"/>
<polyline points="475.0,260.0 472.5,270.0 492.5,275.6 489.4,289.4 483.1,287.5 478.1,293.8 479.4,296.2 471.9,297.5 465.0,293.8 465.6,288.8 463.8,283.1 441.9,278.1 445.0,264.4" fill="none" stroke="#555" stroke-width="0.4"/>
<polygon points="444.4,292.8 450.0,290.6 454.4,293.1 453.8,300.0 447.5,302.5 445.2,298.1" fill="none" stroke="#444" stroke-width="0.45"/>
<polyline points="448.8,297.5 450.2,294.4" fill="none" stroke="#444" stroke-width="0.4"/>
<polygon points="496.2,281.9 500.0,280.6 509.4,283.1 508.8,288.8 501.2,287.8 495.6,286.2" fill="none" stroke="#555" stroke-width="0.4"/>
<polygon points="501.9,283.1 508.1,284.4 507.5,288.5 501.5,287.2" fill="none" stroke="#888" stroke-width="0.7"/>
<polyline points="452.5,283.8 455.0,281.5" fill="none" stroke="#555" stroke-width="0.35"/>
<polyline points="454.2,284.1 456.8,281.9" fill="none" stroke="#555" stroke-width="0.35"/>
<polyline points="456.0,284.5 458.5,282.2" fill="none" stroke="#555" stroke-width="0.35"/>
<polyline points="457.8,284.9 460.2,282.6" fill="none" stroke="#555" stroke-width="0.35"/>
<polyline points="459.5,285.2 462.0,283.0" fill="none" stroke="#555" stroke-width="0.35"/>
<polyline points="461.2,285.6 463.8,283.4" fill="none" stroke="#555" stroke-width="0.35"/>
<polyline points="463.1,325.6 486.2,303.1" fill="none" stroke="#555" stroke-width="0.35"/>
<polyline points="476.2,318.1 491.9,303.1" fill="none" stroke="#555" stroke-width="0.35"/>
<polyline points="448.1,325.0 457.5,316.9" fill="none" stroke="#555" stroke-width="0.35"/>
<polyline points="470.0,315.0 481.2,304.4" fill="none" stroke="#777" stroke-width="0.3" stroke-dasharray="2 2"/>
<polyline points="400.0,285.6 405.0,285.6 433.8,340.0" fill="none" stroke="#555" stroke-width="0.4"/>
<polyline points="513.1,310.0 495.0,340.0" fill="none" stroke="#555" stroke-width="0.4"/>
<polyline points="513.1,325.0 506.2,335.0 508.8,340.0" fill="none" stroke="#555" stroke-width="0.4"/>
<polyline points="551.2,250.0 546.6,260.8 559.5,267.4" fill="none" stroke="#555" stroke-width="0.4"/>
<polyline points="538.0,271.5 554.5,279.8" fill="none" stroke="#555" stroke-width="0.4"/>
<polyline points="539.6,274.0 553.7,281.2" fill="none" stroke="#777" stroke-width="0.3"/>
<polyline points="538.0,271.5 532.2,283.1 538.8,287.3 514.8,321.3 518.1,322.9 505.6,336.2 509.0,337.8 494.9,356.1" fill="none" stroke="#555" stroke-width="0.4"/>
<polyline points="533.8,272.4 485.7,356.1" fill="none" stroke="#555" stroke-width="0.4"/>
<polyline points="512.3,330.1 516.4,330.1" fill="none" stroke="#666" stroke-width="0.6"/>
<polyline points="470.0,316.3 485.7,303.0" fill="none" stroke="#666" stroke-width="0.35"/>
<polyline points="476.6,318.0 491.5,303.0" fill="none" stroke="#666" stroke-width="0.35"/>
<polyline points="470.0,311.3 481.6,303.0" fill="none" stroke="#666" stroke-width="0.35"/>
<polyline points="492.8,340.0 481.2,364.0 487.8,369.8 506.1,340.0" fill="none" stroke="#555" stroke-width="0.4"/>
<polyline points="481.2,367.3 474.6,379.0 487.8,388.1 490.3,384.8" fill="none" stroke="#555" stroke-width="0.4"/>
<polyline points="475.9,377.8 487.8,385.1" fill="none" stroke="#777" stroke-width="0.3"/>
<polyline points="400.0,352.4 424.9,345.8 435.6,341.7" fill="none" stroke="#888" stroke-width="0.9"/>
<polyline points="424.9,345.8 434.0,388.1" fill="none" stroke="#888" stroke-width="0.9"/>
<polyline points="434.0,388.1 411.6,393.9 406.6,375.6" fill="none" stroke="#666" stroke-width="0.5"/>
<polyline points="411.6,393.9 407.5,398.0 400.0,401.7" fill="none" stroke="#555" stroke-width="0.4"/>
<polygon points="435.6,358.2 439.8,356.6 445.6,369.0 435.6,375.6 429.8,363.2" fill="none" stroke="#666" stroke-width="0.5"/>
<polyline points="401.7,351.6 403.3,361.5" fill="none" stroke="#555" stroke-width="0.4"/>
<polyline points="400.0,356.6 403.3,355.7 405.8,364.9 402.5,365.7" fill="none" stroke="#555" stroke-width="0.4"/>
<polyline points="405.8,363.2 411.6,360.7 416.6,379.0 409.9,380.6 408.3,376.5" fill="none" stroke="#555" stroke-width="0.4"/>
<polygon points="409.9,376.1 415.7,374.8 416.6,379.8 410.8,381.1" fill="none" stroke="#777" stroke-width="0.6"/>
<polyline points="418.2,372.3 424.0,372.3" fill="none" stroke="#666" stroke-width="0.4"/>
<rect x="404.3" y="418.8" width="3.6" height="2.2" rx="0" fill="none" stroke="#222" stroke-width="0.8"/>
<polyline points="405.8,421.2 409.1,419.6" fill="none" stroke="#222" stroke-width="0.5"/>
<polyline points="463.0,352.4 469.6,347.5" fill="none" stroke="#666" stroke-width="0.35"/>
<polyline points="477.1,346.6 477.9,347.5" fill="none" stroke="#888" stroke-width="0.3"/>
<polyline points="526.8,359.6 530.9,359.6" fill="none" stroke="#666" stroke-width="0.4"/>
<polyline points="523.5,340.0 485.4,403.8" fill="none" stroke="#888" stroke-width="0.3"/>
<polyline points="464.6,422.0 424.9,444.4" fill="none" stroke="#777" stroke-width="0.35"/>
<polyline points="463.0,419.6 464.6,422.0" fill="none" stroke="#777" stroke-width="0.3"/>
<ellipse cx="448.1" cy="435.8" rx="2.2" ry="1.2" fill="none" stroke="#777" stroke-width="0.35" transform="rotate(-25 448.1 435.8)"/>
<polyline points="318.2,389.9 326.5,422.2 290.0,432.2" fill="none" stroke="#555" stroke-width="0.4"/>
<polyline points="369.6,394.9 372.9,408.1 404.4,399.8 407.7,394.9 434.2,387.4" fill="none" stroke="#555" stroke-width="0.4"/>
<polygon points="312.4,435.1 372.5,419.7 381.7,452.0 326.0,481.5 315.7,439.6" fill="none" stroke="#555" stroke-width="0.4"/>
<polyline points="348.8,424.7 372.5,419.4" fill="none" stroke="#333" stroke-width="0.6"/>
<polyline points="331.4,430.5 333.9,442.9 330.6,444.6 335.6,451.2 346.4,449.2 344.7,438.3 362.9,433.8 366.2,442.1 377.0,440.4" fill="none" stroke="#555" stroke-width="0.4"/>
<polyline points="352.2,432.5 357.1,432.5" fill="none" stroke="#777" stroke-width="0.35"/>
<polyline points="189.7,430.0 206.3,467.3 225.4,462.3 222.9,449.1 229.5,447.4" fill="none" stroke="#555" stroke-width="0.4"/>
<clipPath id="ins"><rect x="619.5" y="222.3" width="194.5" height="176.5"/></clipPath>
<g clip-path="url(#ins)">
<clipPath id="h1"><polygon points="619.5,334 671,321 676,316 686,309 697,316 700,326 694,342 727,350 733,358 684,398.4 619.5,398.4"/></clipPath>
<g clip-path="url(#h1)">
<polyline points="555.2,398.3 675.2,273.5" fill="none" stroke="#5a5a5a" stroke-width="0.5"/>
<polyline points="561.0,398.3 681.0,273.5" fill="none" stroke="#5a5a5a" stroke-width="0.5"/>
<polyline points="566.9,398.3 686.9,273.5" fill="none" stroke="#5a5a5a" stroke-width="0.5"/>
<polyline points="572.8,398.3 692.8,273.5" fill="none" stroke="#5a5a5a" stroke-width="0.5"/>
<polyline points="578.6,398.3 698.6,273.5" fill="none" stroke="#5a5a5a" stroke-width="0.5"/>
<polyline points="584.4,398.3 704.4,273.5" fill="none" stroke="#5a5a5a" stroke-width="0.5"/>
<polyline points="590.3,398.3 710.3,273.5" fill="none" stroke="#5a5a5a" stroke-width="0.5"/>
<polyline points="596.1,398.3 716.1,273.5" fill="none" stroke="#5a5a5a" stroke-width="0.5"/>
<polyline points="602.0,398.3 722.0,273.5" fill="none" stroke="#5a5a5a" stroke-width="0.5"/>
<polyline points="607.9,398.3 727.9,273.5" fill="none" stroke="#888" stroke-width="0.9"/>
<polyline points="613.7,398.3 733.7,273.5" fill="none" stroke="#5a5a5a" stroke-width="0.5"/>
<polyline points="619.5,398.3 739.5,273.5" fill="none" stroke="#5a5a5a" stroke-width="0.5"/>
<polyline points="625.4,398.3 665.4,356.7" fill="none" stroke="#5a5a5a" stroke-width="0.5"/>
<polyline points="631.2,398.3 751.2,273.5" fill="none" stroke="#5a5a5a" stroke-width="0.5"/>
<polyline points="649.1,385.8 757.1,273.5" fill="none" stroke="#5a5a5a" stroke-width="0.5"/>
<polyline points="642.9,398.3 762.9,273.5" fill="none" stroke="#5a5a5a" stroke-width="0.5"/>
<polyline points="654.6,398.3 774.6,273.5" fill="none" stroke="#5a5a5a" stroke-width="0.5"/>
<polyline points="660.5,398.3 780.5,273.5" fill="none" stroke="#5a5a5a" stroke-width="0.5"/>
<polyline points="666.4,398.3 725.4,336.9" fill="none" stroke="#5a5a5a" stroke-width="0.5"/>
<polyline points="672.2,398.3 792.2,273.5" fill="none" stroke="#5a5a5a" stroke-width="0.5"/>
<polyline points="678.0,398.3 798.0,273.5" fill="none" stroke="#888" stroke-width="0.9"/>
<polyline points="683.9,398.3 803.9,273.5" fill="none" stroke="#5a5a5a" stroke-width="0.5"/>
<polyline points="701.8,385.8 809.8,273.5" fill="none" stroke="#5a5a5a" stroke-width="0.5"/>
<polyline points="695.6,398.3 815.6,273.5" fill="none" stroke="#5a5a5a" stroke-width="0.5"/>
<polyline points="701.4,398.3 742.4,355.7" fill="none" stroke="#5a5a5a" stroke-width="0.5"/>
<polyline points="707.3,398.3 827.3,273.5" fill="none" stroke="#5a5a5a" stroke-width="0.5"/>
<polyline points="713.1,398.3 833.1,273.5" fill="none" stroke="#5a5a5a" stroke-width="0.5"/>
<polyline points="719.0,398.3 839.0,273.5" fill="none" stroke="#5a5a5a" stroke-width="0.5"/>
<polyline points="724.8,398.3 844.8,273.5" fill="none" stroke="#5a5a5a" stroke-width="0.5"/>
<polyline points="730.7,398.3 850.7,273.5" fill="none" stroke="#5a5a5a" stroke-width="0.5"/>
<polyline points="736.5,398.3 856.5,273.5" fill="none" stroke="#5a5a5a" stroke-width="0.5"/>
</g>
<clipPath id="h2"><polygon points="708,222.3 775,222.3 751,249 752,262 743,267 733,270 728,266"/></clipPath>
<g clip-path="url(#h2)">
<polyline points="718.0,222.2 658.0,284.0" fill="none" stroke="#555" stroke-width="0.5"/>
<polyline points="723.9,222.2 663.9,284.0" fill="none" stroke="#555" stroke-width="0.5"/>
<polyline points="729.8,222.2 718.8,233.5" fill="none" stroke="#777" stroke-width="0.95"/>
<polyline points="735.7,222.2 675.7,284.0" fill="none" stroke="#555" stroke-width="0.5"/>
<polyline points="741.6,222.2 681.6,284.0" fill="none" stroke="#555" stroke-width="0.5"/>
<polyline points="747.5,222.2 707.5,263.4" fill="none" stroke="#666" stroke-width="0.5" stroke-dasharray="0.7 2.2"/>
<polyline points="753.4,222.2 693.4,284.0" fill="none" stroke="#777" stroke-width="0.95"/>
<polyline points="759.3,222.2 699.3,284.0" fill="none" stroke="#777" stroke-width="0.95"/>
<polyline points="765.2,222.2 725.2,263.4" fill="none" stroke="#444" stroke-width="0.6" stroke-dasharray="3 1 1 1"/>
<polyline points="771.1,222.2 711.1,284.0" fill="none" stroke="#555" stroke-width="0.5"/>
</g>
<polyline points="691.2,273.0 700.3,264.7" fill="none" stroke="#555" stroke-width="0.4"/>
<polyline points="682.9,292.9 689.6,287.9" fill="none" stroke="#555" stroke-width="0.4"/>
<polyline points="687.9,297.0 696.2,289.6" fill="none" stroke="#555" stroke-width="0.4"/>
<polyline points="691.2,301.2 709.4,284.6" fill="none" stroke="#555" stroke-width="0.4"/>
<polyline points="696.2,305.3 712.8,290.4" fill="none" stroke="#555" stroke-width="0.4"/>
<polyline points="702.8,307.8 716.1,296.2" fill="none" stroke="#555" stroke-width="0.4"/>
<polyline points="673.0,321.1 687.9,307.8" fill="none" stroke="#555" stroke-width="0.4"/>
<polyline points="679.6,321.1 692.9,309.5" fill="none" stroke="#555" stroke-width="0.4"/>
<polyline points="687.9,321.1 699.5,311.1" fill="none" stroke="#555" stroke-width="0.4"/>
<polyline points="731.0,319.9 738.5,314.1" fill="none" stroke="#555" stroke-width="0.4"/>
<polyline points="733.5,324.0 742.6,315.7" fill="none" stroke="#555" stroke-width="0.4"/>
<polyline points="737.6,326.5 749.2,316.6" fill="none" stroke="#555" stroke-width="0.4"/>
<polyline points="742.6,327.3 752.5,318.2" fill="none" stroke="#555" stroke-width="0.4"/>
<polyline points="750.9,329.0 760.0,320.7" fill="none" stroke="#555" stroke-width="0.4"/>
<polyline points="731.5,319.9 738.1,314.1" fill="none" stroke="#555" stroke-width="0.4"/>
<polyline points="733.1,324.0 743.1,315.7" fill="none" stroke="#555" stroke-width="0.4"/>
<polyline points="737.3,326.5 748.9,316.6" fill="none" stroke="#555" stroke-width="0.4"/>
<polyline points="742.3,327.3 753.0,318.2" fill="none" stroke="#555" stroke-width="0.4"/>
<polyline points="751.4,329.0 760.5,320.7" fill="none" stroke="#555" stroke-width="0.4"/>
<polyline points="619.4,241.5 649.0,234.9 673.8,228.3 671.3,222.3" fill="none" stroke="#444" stroke-width="0.5" stroke-dasharray="1 1"/>
<polyline points="619.4,242.8 649.8,236.2" fill="none" stroke="#555" stroke-width="0.4" stroke-dasharray="1 1"/>
<polyline points="649.0,234.9 668.8,321.1" fill="none" stroke="#555" stroke-width="0.45"/>
<polyline points="651.4,234.6 671.3,321.1" fill="none" stroke="#555" stroke-width="0.45"/>
<polyline points="659.7,271.4 679.6,256.4 681.3,255.6 682.1,258.9 679.6,260.6 694.5,281.3 676.3,296.2 673.8,297.0 673.0,293.7 675.5,292.1 659.7,271.4" fill="none" stroke="#444" stroke-width="0.45"/>
<polyline points="659.7,271.4 667.2,297.9" fill="none" stroke="#555" stroke-width="0.4"/>
<polyline points="622.4,265.6 627.4,264.7 637.3,306.2 621.6,307.0 626.6,321.1" fill="none" stroke="#555" stroke-width="0.4"/>
<polyline points="622.4,265.6 621.6,272.2 619.1,272.7" fill="none" stroke="#555" stroke-width="0.4"/>
<polyline points="619.9,296.2 631.5,293.7 633.2,301.2 620.8,303.7" fill="none" stroke="#555" stroke-width="0.4"/>
<polyline points="619.9,297.9 630.7,295.7" fill="none" stroke="#555" stroke-width="0.4"/>
<polyline points="620.8,299.9 631.2,297.9" fill="none" stroke="#999" stroke-width="0.7"/>
<polyline points="623.3,283.8 636.5,283.8" fill="none" stroke="#666" stroke-width="0.5"/>
<polyline points="639.0,287.9 652.3,287.9" fill="none" stroke="#333" stroke-width="0.7"/>
<polyline points="661.4,250.6 682.9,231.6" fill="none" stroke="#666" stroke-width="0.4" stroke-dasharray="0.8 2.5"/>
<polyline points="610.0,233.2 618.3,216.7" fill="none" stroke="#777" stroke-width="0.4" stroke-dasharray="0.8 2.5"/>
<polyline points="716.1,248.1 736.0,229.9" fill="none" stroke="#777" stroke-width="0.4" stroke-dasharray="0.8 2.5"/>
<polyline points="619.4,333.1 671.3,319.9 666.4,300.0" fill="none" stroke="#444" stroke-width="0.45"/>
<polyline points="668.3,319.6 663.9,300.0" fill="none" stroke="#555" stroke-width="0.4"/>
<polyline points="621.6,303.3 628.2,330.7" fill="none" stroke="#555" stroke-width="0.4"/>
<polyline points="619.9,303.3 631.5,301.7 632.4,306.6 636.5,305.8 635.7,300.0" fill="none" stroke="#555" stroke-width="0.4"/>
<polyline points="792.8,223.3 764.6,269.7 763.8,272.2 766.3,278.8 777.9,287.1 813.5,227.4" fill="none" stroke="#444" stroke-width="0.45"/>
<polyline points="766.3,278.8 754.7,296.2 753.0,301.2 756.4,302.8 779.6,317.8 781.2,315.3" fill="none" stroke="#444" stroke-width="0.45"/>
<polyline points="754.7,305.3 777.9,320.2" fill="none" stroke="#555" stroke-width="0.4"/>
<polyline points="756.4,294.6 759.7,292.9 761.3,296.2 758.8,297.9" fill="none" stroke="#444" stroke-width="0.4"/>
<polyline points="761.3,290.4 765.5,291.2 767.1,284.6" fill="none" stroke="#666" stroke-width="0.35"/>
<polyline points="813.5,296.2 799.4,321.1" fill="none" stroke="#555" stroke-width="0.4"/>
<polyline points="813.9,263.5 792.0,300.0 759.7,348.9 744.8,363.0 683.8,397.8" fill="none" stroke="#000" stroke-width="1.0"/>
<polyline points="813.9,271.5 797.0,300.0 764.6,351.4 780.4,368.0 763.0,382.9 748.9,368.0 694.5,397.8" fill="none" stroke="#111" stroke-width="0.8"/>
<polyline points="765.0,382.5 779.0,370.5" fill="none" stroke="#555" stroke-width="0.4"/>
<polyline points="813.9,315.0 781.2,369.6 776.2,381.2 749.7,397.8" fill="none" stroke="#111" stroke-width="0.8"/>
<polyline points="813.9,299.0 775.4,359.7" fill="none" stroke="#777" stroke-width="0.35"/>
<polyline points="813.9,357.0 786.2,389.5 775.4,397.8" fill="none" stroke="#111" stroke-width="0.7" stroke-dasharray="1.7 1.3"/>
<polyline points="727.4,380.4 731.5,390.3 718.2,397.8" fill="none" stroke="#555" stroke-width="0.4"/>
<polygon points="683.3,398.2 686.5,395.0 687.5,396.8" fill="#111" stroke="none" stroke-width="0"/>
<polyline points="619.5,376.0 622.0,376.0" fill="none" stroke="#333" stroke-width="0.6"/>
<polyline points="619.5,383.0 622.5,384.0" fill="none" stroke="#333" stroke-width="0.8"/>
<polygon points="685.0,222.2 708.1,222.2 726.9,266.2 730.0,270.0 738.1,271.4 743.8,267.5 748.1,263.1 746.5,272.0 739.4,287.0 738.1,292.5 721.9,300.0 715.0,286.0" fill="#000" stroke="#000" stroke-width="0.5"/>
<path d="M690.0,231.5 L710.0,231.9 Q713.5,232.0 713.1,235.0 L714.8,246.2 Q714.5,261.5 710.6,261.5 L704.0,262.0 Z" fill="#fff" stroke="none" stroke-width="0"/>
<path d="M711.4,275.8 Q714,272.5 719,272.2 L745,272.4 L739.4,286.3 L718,286.2 Q714,285.5 713,281 Z" fill="#fff" stroke="none" stroke-width="0"/>
<polygon points="701.9,315.6 715.6,309.4 725.6,328.1 711.9,335.0" fill="none" stroke="#222" stroke-width="0.5"/>
<polyline points="701.9,315.6 715.6,309.4" fill="none" stroke="#555" stroke-width="1.7"/>
<polyline points="725.6,328.1 711.9,335.0" fill="none" stroke="#555" stroke-width="1.7"/>
<polyline points="701.9,315.6 715.6,309.4" fill="none" stroke="#fff" stroke-width="0.5" stroke-dasharray="0.7 0.7"/>
<polyline points="725.6,328.1 711.9,335.0" fill="none" stroke="#fff" stroke-width="0.5" stroke-dasharray="0.7 0.7"/>
<polyline points="715.6,309.4 725.6,328.1" fill="none" stroke="#111" stroke-width="0.9"/>
<text x="696.2" y="308.0" font-family='"Liberation Sans", sans-serif' font-size="8.6" font-weight="normal" font-style="italic" text-anchor="start" fill="#111" textLength="13.8" lengthAdjust="spacingAndGlyphs" xml:space="preserve">15.1</text>
<text x="728.8" y="310.6" font-family='"Liberation Sans", sans-serif' font-size="8.6" font-weight="normal" font-style="italic" text-anchor="start" fill="#222" textLength="7.5" lengthAdjust="spacingAndGlyphs" xml:space="preserve">15</text>
<text x="690.0" y="335.0" font-family='"Liberation Sans", sans-serif' font-size="8.6" font-weight="normal" font-style="italic" text-anchor="start" fill="#111" textLength="14.4" lengthAdjust="spacingAndGlyphs" xml:space="preserve">15.3</text>
<text x="720.6" y="340.0" font-family='"Liberation Sans", sans-serif' font-size="8.6" font-weight="normal" font-style="italic" text-anchor="start" fill="#111" textLength="14.4" lengthAdjust="spacingAndGlyphs" xml:space="preserve">15.2</text>
</g>
<text x="671.5" y="208.5" font-family='"Liberation Sans", sans-serif' font-size="3.6" font-weight="bold" font-style="italic" text-anchor="start" fill="#222" textLength="91.0" lengthAdjust="spacingAndGlyphs" xml:space="preserve">Фрагмент №1 чертежа межевания М 1:500</text>
</svg>
</body></html>
